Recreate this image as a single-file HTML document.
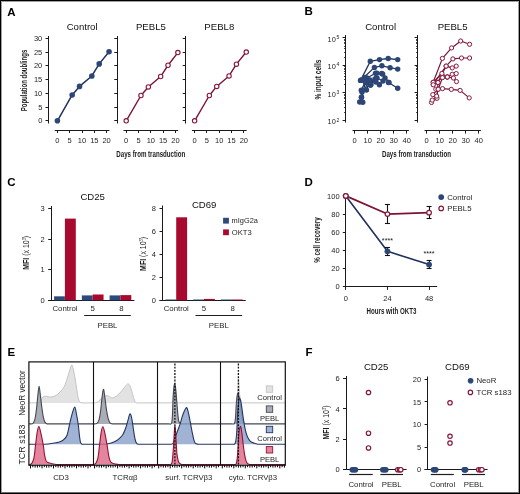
<!DOCTYPE html>
<html><head><meta charset="utf-8"><style>
html,body{margin:0;padding:0;background:#fff;}
#fig{position:relative;width:520px;height:494px;overflow:hidden;background:#fff;}
#fig svg{position:absolute;left:0;top:0;filter:blur(0.3px);}
#frame{position:absolute;left:0;top:0;width:520px;height:494px;box-sizing:border-box;border:1px solid #000;}
#frame2{position:absolute;left:1px;top:1px;width:518px;height:492px;box-sizing:border-box;border:1px solid rgba(0,0,0,0.37);border-bottom-color:rgba(0,0,0,0.57);}
text{font-family:"Liberation Sans", sans-serif;}
</style></head><body>
<div id="fig">
<svg width="520" height="494" viewBox="0 0 520 494" font-family='"Liberation Sans", sans-serif'>
<text x="7.20" y="15.60" font-size="11.5" text-anchor="start" fill="#000" font-weight="bold" >A</text>
<text x="304.60" y="15.00" font-size="11.5" text-anchor="start" fill="#000" font-weight="bold" >B</text>
<text x="7.20" y="185.60" font-size="11.5" text-anchor="start" fill="#000" font-weight="bold" >C</text>
<text x="304.50" y="185.60" font-size="11.5" text-anchor="start" fill="#000" font-weight="bold" >D</text>
<text x="7.60" y="355.60" font-size="11.5" text-anchor="start" fill="#000" font-weight="bold" >E</text>
<text x="305.40" y="355.60" font-size="11.5" text-anchor="start" fill="#000" font-weight="bold" >F</text>
<line x1="48.50" y1="36.00" x2="48.50" y2="123.50" stroke="#1a1a1a" stroke-width="1.0" />
<line x1="45.50" y1="120.50" x2="48.50" y2="120.50" stroke="#1a1a1a" stroke-width="1.0" />
<text x="42.30" y="123.40" font-size="7.5" text-anchor="end" fill="#1e1e1e" font-weight="normal" >0</text>
<line x1="45.50" y1="107.50" x2="48.50" y2="107.50" stroke="#1a1a1a" stroke-width="1.0" />
<text x="42.30" y="109.65" font-size="7.5" text-anchor="end" fill="#1e1e1e" font-weight="normal" >5</text>
<line x1="45.50" y1="93.50" x2="48.50" y2="93.50" stroke="#1a1a1a" stroke-width="1.0" />
<text x="42.30" y="95.90" font-size="7.5" text-anchor="end" fill="#1e1e1e" font-weight="normal" >10</text>
<line x1="45.50" y1="79.50" x2="48.50" y2="79.50" stroke="#1a1a1a" stroke-width="1.0" />
<text x="42.30" y="82.15" font-size="7.5" text-anchor="end" fill="#1e1e1e" font-weight="normal" >15</text>
<line x1="45.50" y1="65.50" x2="48.50" y2="65.50" stroke="#1a1a1a" stroke-width="1.0" />
<text x="42.30" y="68.40" font-size="7.5" text-anchor="end" fill="#1e1e1e" font-weight="normal" >20</text>
<line x1="45.50" y1="52.50" x2="48.50" y2="52.50" stroke="#1a1a1a" stroke-width="1.0" />
<text x="42.30" y="54.65" font-size="7.5" text-anchor="end" fill="#1e1e1e" font-weight="normal" >25</text>
<line x1="45.50" y1="38.50" x2="48.50" y2="38.50" stroke="#1a1a1a" stroke-width="1.0" />
<text x="42.30" y="40.90" font-size="7.5" text-anchor="end" fill="#1e1e1e" font-weight="normal" >30</text>
<line x1="54.70" y1="130.50" x2="109.40" y2="130.50" stroke="#1a1a1a" stroke-width="1.0" />
<line x1="57.50" y1="130.00" x2="57.50" y2="133.00" stroke="#1a1a1a" stroke-width="1.0" />
<text x="57.40" y="142.60" font-size="7.5" text-anchor="middle" fill="#1e1e1e" font-weight="normal" >0</text>
<line x1="69.50" y1="130.00" x2="69.50" y2="133.00" stroke="#1a1a1a" stroke-width="1.0" />
<text x="69.70" y="142.60" font-size="7.5" text-anchor="middle" fill="#1e1e1e" font-weight="normal" >5</text>
<line x1="82.50" y1="130.00" x2="82.50" y2="133.00" stroke="#1a1a1a" stroke-width="1.0" />
<text x="82.00" y="142.60" font-size="7.5" text-anchor="middle" fill="#1e1e1e" font-weight="normal" >10</text>
<line x1="94.50" y1="130.00" x2="94.50" y2="133.00" stroke="#1a1a1a" stroke-width="1.0" />
<text x="94.30" y="142.60" font-size="7.5" text-anchor="middle" fill="#1e1e1e" font-weight="normal" >15</text>
<line x1="106.50" y1="130.00" x2="106.50" y2="133.00" stroke="#1a1a1a" stroke-width="1.0" />
<text x="106.60" y="142.60" font-size="7.5" text-anchor="middle" fill="#1e1e1e" font-weight="normal" >20</text>
<text x="82.10" y="30.10" font-size="9.6" text-anchor="middle" fill="#111" font-weight="normal" >Control</text>
<polyline points="57.40,120.80 72.16,94.95 79.54,86.42 91.84,75.97 99.22,63.88 109.06,51.77" fill="none" stroke="#1f325c" stroke-width="1.5" stroke-linejoin="round"/>
<circle cx="57.40" cy="120.80" r="2.8" fill="#2b4677" stroke="none" stroke-width="0"/>
<circle cx="72.16" cy="94.95" r="2.8" fill="#2b4677" stroke="none" stroke-width="0"/>
<circle cx="79.54" cy="86.42" r="2.8" fill="#2b4677" stroke="none" stroke-width="0"/>
<circle cx="91.84" cy="75.97" r="2.8" fill="#2b4677" stroke="none" stroke-width="0"/>
<circle cx="99.22" cy="63.88" r="2.8" fill="#2b4677" stroke="none" stroke-width="0"/>
<circle cx="109.06" cy="51.77" r="2.8" fill="#2b4677" stroke="none" stroke-width="0"/>
<line x1="117.50" y1="36.00" x2="117.50" y2="123.50" stroke="#1a1a1a" stroke-width="1.0" />
<line x1="114.30" y1="120.50" x2="117.30" y2="120.50" stroke="#1a1a1a" stroke-width="1.0" />
<line x1="114.30" y1="107.50" x2="117.30" y2="107.50" stroke="#1a1a1a" stroke-width="1.0" />
<line x1="114.30" y1="93.50" x2="117.30" y2="93.50" stroke="#1a1a1a" stroke-width="1.0" />
<line x1="114.30" y1="79.50" x2="117.30" y2="79.50" stroke="#1a1a1a" stroke-width="1.0" />
<line x1="114.30" y1="65.50" x2="117.30" y2="65.50" stroke="#1a1a1a" stroke-width="1.0" />
<line x1="114.30" y1="52.50" x2="117.30" y2="52.50" stroke="#1a1a1a" stroke-width="1.0" />
<line x1="114.30" y1="38.50" x2="117.30" y2="38.50" stroke="#1a1a1a" stroke-width="1.0" />
<line x1="123.50" y1="130.50" x2="178.20" y2="130.50" stroke="#1a1a1a" stroke-width="1.0" />
<line x1="126.50" y1="130.00" x2="126.50" y2="133.00" stroke="#1a1a1a" stroke-width="1.0" />
<text x="126.20" y="142.60" font-size="7.5" text-anchor="middle" fill="#1e1e1e" font-weight="normal" >0</text>
<line x1="138.50" y1="130.00" x2="138.50" y2="133.00" stroke="#1a1a1a" stroke-width="1.0" />
<text x="138.50" y="142.60" font-size="7.5" text-anchor="middle" fill="#1e1e1e" font-weight="normal" >5</text>
<line x1="150.50" y1="130.00" x2="150.50" y2="133.00" stroke="#1a1a1a" stroke-width="1.0" />
<text x="150.80" y="142.60" font-size="7.5" text-anchor="middle" fill="#1e1e1e" font-weight="normal" >10</text>
<line x1="163.50" y1="130.00" x2="163.50" y2="133.00" stroke="#1a1a1a" stroke-width="1.0" />
<text x="163.10" y="142.60" font-size="7.5" text-anchor="middle" fill="#1e1e1e" font-weight="normal" >15</text>
<line x1="175.50" y1="130.00" x2="175.50" y2="133.00" stroke="#1a1a1a" stroke-width="1.0" />
<text x="175.40" y="142.60" font-size="7.5" text-anchor="middle" fill="#1e1e1e" font-weight="normal" >20</text>
<text x="150.90" y="30.10" font-size="9.6" text-anchor="middle" fill="#111" font-weight="normal" >PEBL5</text>
<polyline points="126.20,120.80 140.96,95.50 148.34,86.97 160.64,76.52 168.02,65.25 177.86,52.60" fill="none" stroke="#7c1333" stroke-width="1.4" stroke-linejoin="round"/>
<circle cx="126.20" cy="120.80" r="2.2" fill="#fff" stroke="#85173a" stroke-width="1.1"/>
<circle cx="140.96" cy="95.50" r="2.2" fill="#fff" stroke="#85173a" stroke-width="1.1"/>
<circle cx="148.34" cy="86.97" r="2.2" fill="#fff" stroke="#85173a" stroke-width="1.1"/>
<circle cx="160.64" cy="76.52" r="2.2" fill="#fff" stroke="#85173a" stroke-width="1.1"/>
<circle cx="168.02" cy="65.25" r="2.2" fill="#fff" stroke="#85173a" stroke-width="1.1"/>
<circle cx="177.86" cy="52.60" r="2.2" fill="#fff" stroke="#85173a" stroke-width="1.1"/>
<line x1="185.50" y1="36.00" x2="185.50" y2="123.50" stroke="#1a1a1a" stroke-width="1.0" />
<line x1="182.70" y1="120.50" x2="185.70" y2="120.50" stroke="#1a1a1a" stroke-width="1.0" />
<line x1="182.70" y1="107.50" x2="185.70" y2="107.50" stroke="#1a1a1a" stroke-width="1.0" />
<line x1="182.70" y1="93.50" x2="185.70" y2="93.50" stroke="#1a1a1a" stroke-width="1.0" />
<line x1="182.70" y1="79.50" x2="185.70" y2="79.50" stroke="#1a1a1a" stroke-width="1.0" />
<line x1="182.70" y1="65.50" x2="185.70" y2="65.50" stroke="#1a1a1a" stroke-width="1.0" />
<line x1="182.70" y1="52.50" x2="185.70" y2="52.50" stroke="#1a1a1a" stroke-width="1.0" />
<line x1="182.70" y1="38.50" x2="185.70" y2="38.50" stroke="#1a1a1a" stroke-width="1.0" />
<line x1="191.90" y1="130.50" x2="246.60" y2="130.50" stroke="#1a1a1a" stroke-width="1.0" />
<line x1="194.50" y1="130.00" x2="194.50" y2="133.00" stroke="#1a1a1a" stroke-width="1.0" />
<text x="194.60" y="142.60" font-size="7.5" text-anchor="middle" fill="#1e1e1e" font-weight="normal" >0</text>
<line x1="206.50" y1="130.00" x2="206.50" y2="133.00" stroke="#1a1a1a" stroke-width="1.0" />
<text x="206.90" y="142.60" font-size="7.5" text-anchor="middle" fill="#1e1e1e" font-weight="normal" >5</text>
<line x1="219.50" y1="130.00" x2="219.50" y2="133.00" stroke="#1a1a1a" stroke-width="1.0" />
<text x="219.20" y="142.60" font-size="7.5" text-anchor="middle" fill="#1e1e1e" font-weight="normal" >10</text>
<line x1="231.50" y1="130.00" x2="231.50" y2="133.00" stroke="#1a1a1a" stroke-width="1.0" />
<text x="231.50" y="142.60" font-size="7.5" text-anchor="middle" fill="#1e1e1e" font-weight="normal" >15</text>
<line x1="243.50" y1="130.00" x2="243.50" y2="133.00" stroke="#1a1a1a" stroke-width="1.0" />
<text x="243.80" y="142.60" font-size="7.5" text-anchor="middle" fill="#1e1e1e" font-weight="normal" >20</text>
<text x="219.30" y="30.10" font-size="9.6" text-anchor="middle" fill="#111" font-weight="normal" >PEBL8</text>
<polyline points="194.60,120.80 209.36,95.50 216.74,86.42 229.04,75.97 236.42,64.15 246.26,52.05" fill="none" stroke="#7c1333" stroke-width="1.4" stroke-linejoin="round"/>
<circle cx="194.60" cy="120.80" r="2.2" fill="#fff" stroke="#85173a" stroke-width="1.1"/>
<circle cx="209.36" cy="95.50" r="2.2" fill="#fff" stroke="#85173a" stroke-width="1.1"/>
<circle cx="216.74" cy="86.42" r="2.2" fill="#fff" stroke="#85173a" stroke-width="1.1"/>
<circle cx="229.04" cy="75.97" r="2.2" fill="#fff" stroke="#85173a" stroke-width="1.1"/>
<circle cx="236.42" cy="64.15" r="2.2" fill="#fff" stroke="#85173a" stroke-width="1.1"/>
<circle cx="246.26" cy="52.05" r="2.2" fill="#fff" stroke="#85173a" stroke-width="1.1"/>
<text transform="translate(26.70,80.50) rotate(-90)" x="0" y="0" font-size="8.8" text-anchor="middle" fill="#1a1a1a" font-weight="bold" textLength="61.5" lengthAdjust="spacingAndGlyphs">Population doublings</text>
<text x="150.80" y="156.60" font-size="8.8" text-anchor="middle" fill="#1a1a1a" font-weight="bold" textLength="69" lengthAdjust="spacingAndGlyphs" >Days from transduction</text>
<line x1="345.50" y1="35.00" x2="345.50" y2="122.60" stroke="#1a1a1a" stroke-width="1.0" />
<line x1="342.60" y1="120.50" x2="345.60" y2="120.50" stroke="#1a1a1a" stroke-width="1.0" />
<text x="335.80" y="124.40" font-size="7.4" text-anchor="end" fill="#1e1e1e" font-weight="normal" >10</text>
<text x="336.40" y="121.50" font-size="5.0" text-anchor="start" fill="#1e1e1e" font-weight="normal" >2</text>
<line x1="344.00" y1="112.50" x2="345.60" y2="112.50" stroke="#1a1a1a" stroke-width="0.8" />
<line x1="344.00" y1="107.50" x2="345.60" y2="107.50" stroke="#1a1a1a" stroke-width="0.8" />
<line x1="344.00" y1="103.50" x2="345.60" y2="103.50" stroke="#1a1a1a" stroke-width="0.8" />
<line x1="344.00" y1="101.50" x2="345.60" y2="101.50" stroke="#1a1a1a" stroke-width="0.8" />
<line x1="344.00" y1="98.50" x2="345.60" y2="98.50" stroke="#1a1a1a" stroke-width="0.8" />
<line x1="344.00" y1="97.50" x2="345.60" y2="97.50" stroke="#1a1a1a" stroke-width="0.8" />
<line x1="344.00" y1="95.50" x2="345.60" y2="95.50" stroke="#1a1a1a" stroke-width="0.8" />
<line x1="344.00" y1="94.50" x2="345.60" y2="94.50" stroke="#1a1a1a" stroke-width="0.8" />
<line x1="342.60" y1="92.50" x2="345.60" y2="92.50" stroke="#1a1a1a" stroke-width="1.0" />
<text x="335.80" y="96.87" font-size="7.4" text-anchor="end" fill="#1e1e1e" font-weight="normal" >10</text>
<text x="336.40" y="93.97" font-size="5.0" text-anchor="start" fill="#1e1e1e" font-weight="normal" >3</text>
<line x1="344.00" y1="84.50" x2="345.60" y2="84.50" stroke="#1a1a1a" stroke-width="0.8" />
<line x1="344.00" y1="79.50" x2="345.60" y2="79.50" stroke="#1a1a1a" stroke-width="0.8" />
<line x1="344.00" y1="76.50" x2="345.60" y2="76.50" stroke="#1a1a1a" stroke-width="0.8" />
<line x1="344.00" y1="73.50" x2="345.60" y2="73.50" stroke="#1a1a1a" stroke-width="0.8" />
<line x1="344.00" y1="71.50" x2="345.60" y2="71.50" stroke="#1a1a1a" stroke-width="0.8" />
<line x1="344.00" y1="69.50" x2="345.60" y2="69.50" stroke="#1a1a1a" stroke-width="0.8" />
<line x1="344.00" y1="68.50" x2="345.60" y2="68.50" stroke="#1a1a1a" stroke-width="0.8" />
<line x1="344.00" y1="66.50" x2="345.60" y2="66.50" stroke="#1a1a1a" stroke-width="0.8" />
<line x1="342.60" y1="65.50" x2="345.60" y2="65.50" stroke="#1a1a1a" stroke-width="1.0" />
<text x="335.80" y="69.34" font-size="7.4" text-anchor="end" fill="#1e1e1e" font-weight="normal" >10</text>
<text x="336.40" y="66.44" font-size="5.0" text-anchor="start" fill="#1e1e1e" font-weight="normal" >4</text>
<line x1="344.00" y1="57.50" x2="345.60" y2="57.50" stroke="#1a1a1a" stroke-width="0.8" />
<line x1="344.00" y1="52.50" x2="345.60" y2="52.50" stroke="#1a1a1a" stroke-width="0.8" />
<line x1="344.00" y1="48.50" x2="345.60" y2="48.50" stroke="#1a1a1a" stroke-width="0.8" />
<line x1="344.00" y1="46.50" x2="345.60" y2="46.50" stroke="#1a1a1a" stroke-width="0.8" />
<line x1="344.00" y1="43.50" x2="345.60" y2="43.50" stroke="#1a1a1a" stroke-width="0.8" />
<line x1="344.00" y1="42.50" x2="345.60" y2="42.50" stroke="#1a1a1a" stroke-width="0.8" />
<line x1="344.00" y1="40.50" x2="345.60" y2="40.50" stroke="#1a1a1a" stroke-width="0.8" />
<line x1="344.00" y1="39.50" x2="345.60" y2="39.50" stroke="#1a1a1a" stroke-width="0.8" />
<line x1="342.60" y1="37.50" x2="345.60" y2="37.50" stroke="#1a1a1a" stroke-width="1.0" />
<text x="335.80" y="41.81" font-size="7.4" text-anchor="end" fill="#1e1e1e" font-weight="normal" >10</text>
<text x="336.40" y="38.91" font-size="5.0" text-anchor="start" fill="#1e1e1e" font-weight="normal" >5</text>
<line x1="352.50" y1="130.50" x2="408.90" y2="130.50" stroke="#1a1a1a" stroke-width="1.0" />
<line x1="354.50" y1="130.60" x2="354.50" y2="133.60" stroke="#1a1a1a" stroke-width="1.0" />
<text x="354.70" y="143.00" font-size="7.5" text-anchor="middle" fill="#1e1e1e" font-weight="normal" >0</text>
<line x1="367.50" y1="130.60" x2="367.50" y2="133.60" stroke="#1a1a1a" stroke-width="1.0" />
<text x="367.70" y="143.00" font-size="7.5" text-anchor="middle" fill="#1e1e1e" font-weight="normal" >10</text>
<line x1="380.50" y1="130.60" x2="380.50" y2="133.60" stroke="#1a1a1a" stroke-width="1.0" />
<text x="380.70" y="143.00" font-size="7.5" text-anchor="middle" fill="#1e1e1e" font-weight="normal" >20</text>
<line x1="393.50" y1="130.60" x2="393.50" y2="133.60" stroke="#1a1a1a" stroke-width="1.0" />
<text x="393.70" y="143.00" font-size="7.5" text-anchor="middle" fill="#1e1e1e" font-weight="normal" >30</text>
<line x1="406.50" y1="130.60" x2="406.50" y2="133.60" stroke="#1a1a1a" stroke-width="1.0" />
<text x="406.70" y="143.00" font-size="7.5" text-anchor="middle" fill="#1e1e1e" font-weight="normal" >40</text>
<text x="380.60" y="30.10" font-size="9.6" text-anchor="middle" fill="#111" font-weight="normal" >Control</text>
<line x1="417.50" y1="35.00" x2="417.50" y2="122.60" stroke="#1a1a1a" stroke-width="1.0" />
<line x1="414.60" y1="120.50" x2="417.60" y2="120.50" stroke="#1a1a1a" stroke-width="1.0" />
<line x1="416.00" y1="112.50" x2="417.60" y2="112.50" stroke="#1a1a1a" stroke-width="0.8" />
<line x1="416.00" y1="107.50" x2="417.60" y2="107.50" stroke="#1a1a1a" stroke-width="0.8" />
<line x1="416.00" y1="103.50" x2="417.60" y2="103.50" stroke="#1a1a1a" stroke-width="0.8" />
<line x1="416.00" y1="101.50" x2="417.60" y2="101.50" stroke="#1a1a1a" stroke-width="0.8" />
<line x1="416.00" y1="98.50" x2="417.60" y2="98.50" stroke="#1a1a1a" stroke-width="0.8" />
<line x1="416.00" y1="97.50" x2="417.60" y2="97.50" stroke="#1a1a1a" stroke-width="0.8" />
<line x1="416.00" y1="95.50" x2="417.60" y2="95.50" stroke="#1a1a1a" stroke-width="0.8" />
<line x1="416.00" y1="94.50" x2="417.60" y2="94.50" stroke="#1a1a1a" stroke-width="0.8" />
<line x1="414.60" y1="92.50" x2="417.60" y2="92.50" stroke="#1a1a1a" stroke-width="1.0" />
<line x1="416.00" y1="84.50" x2="417.60" y2="84.50" stroke="#1a1a1a" stroke-width="0.8" />
<line x1="416.00" y1="79.50" x2="417.60" y2="79.50" stroke="#1a1a1a" stroke-width="0.8" />
<line x1="416.00" y1="76.50" x2="417.60" y2="76.50" stroke="#1a1a1a" stroke-width="0.8" />
<line x1="416.00" y1="73.50" x2="417.60" y2="73.50" stroke="#1a1a1a" stroke-width="0.8" />
<line x1="416.00" y1="71.50" x2="417.60" y2="71.50" stroke="#1a1a1a" stroke-width="0.8" />
<line x1="416.00" y1="69.50" x2="417.60" y2="69.50" stroke="#1a1a1a" stroke-width="0.8" />
<line x1="416.00" y1="68.50" x2="417.60" y2="68.50" stroke="#1a1a1a" stroke-width="0.8" />
<line x1="416.00" y1="66.50" x2="417.60" y2="66.50" stroke="#1a1a1a" stroke-width="0.8" />
<line x1="414.60" y1="65.50" x2="417.60" y2="65.50" stroke="#1a1a1a" stroke-width="1.0" />
<line x1="416.00" y1="57.50" x2="417.60" y2="57.50" stroke="#1a1a1a" stroke-width="0.8" />
<line x1="416.00" y1="52.50" x2="417.60" y2="52.50" stroke="#1a1a1a" stroke-width="0.8" />
<line x1="416.00" y1="48.50" x2="417.60" y2="48.50" stroke="#1a1a1a" stroke-width="0.8" />
<line x1="416.00" y1="46.50" x2="417.60" y2="46.50" stroke="#1a1a1a" stroke-width="0.8" />
<line x1="416.00" y1="43.50" x2="417.60" y2="43.50" stroke="#1a1a1a" stroke-width="0.8" />
<line x1="416.00" y1="42.50" x2="417.60" y2="42.50" stroke="#1a1a1a" stroke-width="0.8" />
<line x1="416.00" y1="40.50" x2="417.60" y2="40.50" stroke="#1a1a1a" stroke-width="0.8" />
<line x1="416.00" y1="39.50" x2="417.60" y2="39.50" stroke="#1a1a1a" stroke-width="0.8" />
<line x1="414.60" y1="37.50" x2="417.60" y2="37.50" stroke="#1a1a1a" stroke-width="1.0" />
<line x1="424.50" y1="130.50" x2="480.90" y2="130.50" stroke="#1a1a1a" stroke-width="1.0" />
<line x1="426.50" y1="130.60" x2="426.50" y2="133.60" stroke="#1a1a1a" stroke-width="1.0" />
<text x="426.70" y="143.00" font-size="7.5" text-anchor="middle" fill="#1e1e1e" font-weight="normal" >0</text>
<line x1="439.50" y1="130.60" x2="439.50" y2="133.60" stroke="#1a1a1a" stroke-width="1.0" />
<text x="439.70" y="143.00" font-size="7.5" text-anchor="middle" fill="#1e1e1e" font-weight="normal" >10</text>
<line x1="452.50" y1="130.60" x2="452.50" y2="133.60" stroke="#1a1a1a" stroke-width="1.0" />
<text x="452.70" y="143.00" font-size="7.5" text-anchor="middle" fill="#1e1e1e" font-weight="normal" >20</text>
<line x1="465.50" y1="130.60" x2="465.50" y2="133.60" stroke="#1a1a1a" stroke-width="1.0" />
<text x="465.70" y="143.00" font-size="7.5" text-anchor="middle" fill="#1e1e1e" font-weight="normal" >30</text>
<line x1="478.50" y1="130.60" x2="478.50" y2="133.60" stroke="#1a1a1a" stroke-width="1.0" />
<text x="478.70" y="143.00" font-size="7.5" text-anchor="middle" fill="#1e1e1e" font-weight="normal" >40</text>
<text x="452.60" y="30.10" font-size="9.6" text-anchor="middle" fill="#111" font-weight="normal" >PEBL5</text>
<polyline points="360.60,80.40 370.30,61.30 379.50,59.60 388.20,58.50 397.70,59.60" fill="none" stroke="#1f325c" stroke-width="1.3" stroke-linejoin="round"/>
<polyline points="361.30,80.00 374.40,67.40 381.90,65.80 390.10,67.70 397.70,69.10" fill="none" stroke="#1f325c" stroke-width="1.3" stroke-linejoin="round"/>
<polyline points="361.30,90.30 367.00,78.00 375.50,73.30 382.60,74.00 388.50,82.50 397.70,88.20" fill="none" stroke="#1f325c" stroke-width="1.3" stroke-linejoin="round"/>
<polyline points="362.80,102.20 361.50,97.20 368.00,82.00 375.00,79.00 379.40,84.80 385.00,78.00" fill="none" stroke="#1f325c" stroke-width="1.3" stroke-linejoin="round"/>
<polyline points="359.70,102.00 361.50,97.20 365.50,82.40 370.40,85.20 376.90,73.10 381.70,73.50 389.00,82.40" fill="none" stroke="#1f325c" stroke-width="1.3" stroke-linejoin="round"/>
<polyline points="360.60,80.40 365.00,77.50 371.00,84.50 377.00,78.00 383.00,81.00" fill="none" stroke="#1f325c" stroke-width="1.3" stroke-linejoin="round"/>
<polyline points="362.00,92.00 366.50,90.00 370.00,80.00 376.00,82.00" fill="none" stroke="#1f325c" stroke-width="1.3" stroke-linejoin="round"/>
<circle cx="360.60" cy="80.40" r="2.7" fill="#2b4677" stroke="none" stroke-width="0"/>
<circle cx="370.30" cy="61.30" r="2.7" fill="#2b4677" stroke="none" stroke-width="0"/>
<circle cx="379.50" cy="59.60" r="2.7" fill="#2b4677" stroke="none" stroke-width="0"/>
<circle cx="388.20" cy="58.50" r="2.7" fill="#2b4677" stroke="none" stroke-width="0"/>
<circle cx="397.70" cy="59.60" r="2.7" fill="#2b4677" stroke="none" stroke-width="0"/>
<circle cx="361.30" cy="80.00" r="2.7" fill="#2b4677" stroke="none" stroke-width="0"/>
<circle cx="374.40" cy="67.40" r="2.7" fill="#2b4677" stroke="none" stroke-width="0"/>
<circle cx="381.90" cy="65.80" r="2.7" fill="#2b4677" stroke="none" stroke-width="0"/>
<circle cx="390.10" cy="67.70" r="2.7" fill="#2b4677" stroke="none" stroke-width="0"/>
<circle cx="397.70" cy="69.10" r="2.7" fill="#2b4677" stroke="none" stroke-width="0"/>
<circle cx="361.30" cy="90.30" r="2.7" fill="#2b4677" stroke="none" stroke-width="0"/>
<circle cx="367.00" cy="78.00" r="2.7" fill="#2b4677" stroke="none" stroke-width="0"/>
<circle cx="375.50" cy="73.30" r="2.7" fill="#2b4677" stroke="none" stroke-width="0"/>
<circle cx="382.60" cy="74.00" r="2.7" fill="#2b4677" stroke="none" stroke-width="0"/>
<circle cx="388.50" cy="82.50" r="2.7" fill="#2b4677" stroke="none" stroke-width="0"/>
<circle cx="397.70" cy="88.20" r="2.7" fill="#2b4677" stroke="none" stroke-width="0"/>
<circle cx="362.80" cy="102.20" r="2.7" fill="#2b4677" stroke="none" stroke-width="0"/>
<circle cx="361.50" cy="97.20" r="2.7" fill="#2b4677" stroke="none" stroke-width="0"/>
<circle cx="368.00" cy="82.00" r="2.7" fill="#2b4677" stroke="none" stroke-width="0"/>
<circle cx="375.00" cy="79.00" r="2.7" fill="#2b4677" stroke="none" stroke-width="0"/>
<circle cx="379.40" cy="84.80" r="2.7" fill="#2b4677" stroke="none" stroke-width="0"/>
<circle cx="385.00" cy="78.00" r="2.7" fill="#2b4677" stroke="none" stroke-width="0"/>
<circle cx="359.70" cy="102.00" r="2.7" fill="#2b4677" stroke="none" stroke-width="0"/>
<circle cx="361.50" cy="97.20" r="2.7" fill="#2b4677" stroke="none" stroke-width="0"/>
<circle cx="365.50" cy="82.40" r="2.7" fill="#2b4677" stroke="none" stroke-width="0"/>
<circle cx="370.40" cy="85.20" r="2.7" fill="#2b4677" stroke="none" stroke-width="0"/>
<circle cx="376.90" cy="73.10" r="2.7" fill="#2b4677" stroke="none" stroke-width="0"/>
<circle cx="381.70" cy="73.50" r="2.7" fill="#2b4677" stroke="none" stroke-width="0"/>
<circle cx="389.00" cy="82.40" r="2.7" fill="#2b4677" stroke="none" stroke-width="0"/>
<circle cx="360.60" cy="80.40" r="2.7" fill="#2b4677" stroke="none" stroke-width="0"/>
<circle cx="365.00" cy="77.50" r="2.7" fill="#2b4677" stroke="none" stroke-width="0"/>
<circle cx="371.00" cy="84.50" r="2.7" fill="#2b4677" stroke="none" stroke-width="0"/>
<circle cx="377.00" cy="78.00" r="2.7" fill="#2b4677" stroke="none" stroke-width="0"/>
<circle cx="383.00" cy="81.00" r="2.7" fill="#2b4677" stroke="none" stroke-width="0"/>
<circle cx="362.00" cy="92.00" r="2.7" fill="#2b4677" stroke="none" stroke-width="0"/>
<circle cx="366.50" cy="90.00" r="2.7" fill="#2b4677" stroke="none" stroke-width="0"/>
<circle cx="370.00" cy="80.00" r="2.7" fill="#2b4677" stroke="none" stroke-width="0"/>
<circle cx="376.00" cy="82.00" r="2.7" fill="#2b4677" stroke="none" stroke-width="0"/>
<polyline points="433.20,82.30 442.40,58.40 451.60,47.90 460.70,41.00 469.60,44.30" fill="none" stroke="#7c1333" stroke-width="1.2" stroke-linejoin="round"/>
<polyline points="433.20,84.30 446.10,66.10 452.90,58.90 461.50,58.00 469.60,58.00" fill="none" stroke="#7c1333" stroke-width="1.2" stroke-linejoin="round"/>
<polyline points="433.20,82.30 441.90,73.40 447.30,77.00 452.20,74.30 456.20,73.60" fill="none" stroke="#7c1333" stroke-width="1.2" stroke-linejoin="round"/>
<polyline points="438.00,82.50 446.10,66.10 452.20,67.90 456.20,66.10" fill="none" stroke="#7c1333" stroke-width="1.2" stroke-linejoin="round"/>
<polyline points="433.20,84.80 441.90,77.60 447.30,77.00 453.40,78.00 456.50,81.60" fill="none" stroke="#7c1333" stroke-width="1.2" stroke-linejoin="round"/>
<polyline points="435.80,89.20 442.50,88.60 451.30,89.40 460.10,90.40 469.20,97.90" fill="none" stroke="#7c1333" stroke-width="1.2" stroke-linejoin="round"/>
<polyline points="432.80,94.60 438.20,89.20 442.50,77.60 447.30,77.00" fill="none" stroke="#7c1333" stroke-width="1.2" stroke-linejoin="round"/>
<polyline points="431.50,102.50 437.00,98.30 438.00,82.50" fill="none" stroke="#7c1333" stroke-width="1.2" stroke-linejoin="round"/>
<polyline points="432.20,100.10 436.70,96.10 438.20,89.20" fill="none" stroke="#7c1333" stroke-width="1.2" stroke-linejoin="round"/>
<circle cx="433.20" cy="82.30" r="2.1" fill="#fff" stroke="#85173a" stroke-width="1.0"/>
<circle cx="442.40" cy="58.40" r="2.1" fill="#fff" stroke="#85173a" stroke-width="1.0"/>
<circle cx="451.60" cy="47.90" r="2.1" fill="#fff" stroke="#85173a" stroke-width="1.0"/>
<circle cx="460.70" cy="41.00" r="2.1" fill="#fff" stroke="#85173a" stroke-width="1.0"/>
<circle cx="469.60" cy="44.30" r="2.1" fill="#fff" stroke="#85173a" stroke-width="1.0"/>
<circle cx="433.20" cy="84.30" r="2.1" fill="#fff" stroke="#85173a" stroke-width="1.0"/>
<circle cx="446.10" cy="66.10" r="2.1" fill="#fff" stroke="#85173a" stroke-width="1.0"/>
<circle cx="452.90" cy="58.90" r="2.1" fill="#fff" stroke="#85173a" stroke-width="1.0"/>
<circle cx="461.50" cy="58.00" r="2.1" fill="#fff" stroke="#85173a" stroke-width="1.0"/>
<circle cx="469.60" cy="58.00" r="2.1" fill="#fff" stroke="#85173a" stroke-width="1.0"/>
<circle cx="433.20" cy="82.30" r="2.1" fill="#fff" stroke="#85173a" stroke-width="1.0"/>
<circle cx="441.90" cy="73.40" r="2.1" fill="#fff" stroke="#85173a" stroke-width="1.0"/>
<circle cx="447.30" cy="77.00" r="2.1" fill="#fff" stroke="#85173a" stroke-width="1.0"/>
<circle cx="452.20" cy="74.30" r="2.1" fill="#fff" stroke="#85173a" stroke-width="1.0"/>
<circle cx="456.20" cy="73.60" r="2.1" fill="#fff" stroke="#85173a" stroke-width="1.0"/>
<circle cx="438.00" cy="82.50" r="2.1" fill="#fff" stroke="#85173a" stroke-width="1.0"/>
<circle cx="446.10" cy="66.10" r="2.1" fill="#fff" stroke="#85173a" stroke-width="1.0"/>
<circle cx="452.20" cy="67.90" r="2.1" fill="#fff" stroke="#85173a" stroke-width="1.0"/>
<circle cx="456.20" cy="66.10" r="2.1" fill="#fff" stroke="#85173a" stroke-width="1.0"/>
<circle cx="433.20" cy="84.80" r="2.1" fill="#fff" stroke="#85173a" stroke-width="1.0"/>
<circle cx="441.90" cy="77.60" r="2.1" fill="#fff" stroke="#85173a" stroke-width="1.0"/>
<circle cx="447.30" cy="77.00" r="2.1" fill="#fff" stroke="#85173a" stroke-width="1.0"/>
<circle cx="453.40" cy="78.00" r="2.1" fill="#fff" stroke="#85173a" stroke-width="1.0"/>
<circle cx="456.50" cy="81.60" r="2.1" fill="#fff" stroke="#85173a" stroke-width="1.0"/>
<circle cx="435.80" cy="89.20" r="2.1" fill="#fff" stroke="#85173a" stroke-width="1.0"/>
<circle cx="442.50" cy="88.60" r="2.1" fill="#fff" stroke="#85173a" stroke-width="1.0"/>
<circle cx="451.30" cy="89.40" r="2.1" fill="#fff" stroke="#85173a" stroke-width="1.0"/>
<circle cx="460.10" cy="90.40" r="2.1" fill="#fff" stroke="#85173a" stroke-width="1.0"/>
<circle cx="469.20" cy="97.90" r="2.1" fill="#fff" stroke="#85173a" stroke-width="1.0"/>
<circle cx="432.80" cy="94.60" r="2.1" fill="#fff" stroke="#85173a" stroke-width="1.0"/>
<circle cx="438.20" cy="89.20" r="2.1" fill="#fff" stroke="#85173a" stroke-width="1.0"/>
<circle cx="442.50" cy="77.60" r="2.1" fill="#fff" stroke="#85173a" stroke-width="1.0"/>
<circle cx="447.30" cy="77.00" r="2.1" fill="#fff" stroke="#85173a" stroke-width="1.0"/>
<circle cx="431.50" cy="102.50" r="2.1" fill="#fff" stroke="#85173a" stroke-width="1.0"/>
<circle cx="437.00" cy="98.30" r="2.1" fill="#fff" stroke="#85173a" stroke-width="1.0"/>
<circle cx="438.00" cy="82.50" r="2.1" fill="#fff" stroke="#85173a" stroke-width="1.0"/>
<circle cx="432.20" cy="100.10" r="2.1" fill="#fff" stroke="#85173a" stroke-width="1.0"/>
<circle cx="436.70" cy="96.10" r="2.1" fill="#fff" stroke="#85173a" stroke-width="1.0"/>
<circle cx="438.20" cy="89.20" r="2.1" fill="#fff" stroke="#85173a" stroke-width="1.0"/>
<text transform="translate(321.00,79.60) rotate(-90)" x="0" y="0" font-size="8.2" text-anchor="middle" fill="#1a1a1a" font-weight="bold" textLength="40" lengthAdjust="spacingAndGlyphs">% input cells</text>
<text x="416.50" y="156.60" font-size="8.8" text-anchor="middle" fill="#1a1a1a" font-weight="bold" textLength="69" lengthAdjust="spacingAndGlyphs" >Days from transduction</text>
<line x1="51.50" y1="206.00" x2="51.50" y2="300.30" stroke="#1a1a1a" stroke-width="1.0" />
<line x1="48.20" y1="300.50" x2="134.40" y2="300.50" stroke="#1a1a1a" stroke-width="1.0" />
<line x1="48.20" y1="300.50" x2="51.20" y2="300.50" stroke="#1a1a1a" stroke-width="1.0" />
<text x="44.60" y="302.90" font-size="7.5" text-anchor="end" fill="#1e1e1e" font-weight="normal" >0</text>
<line x1="48.20" y1="269.50" x2="51.20" y2="269.50" stroke="#1a1a1a" stroke-width="1.0" />
<text x="44.60" y="272.30" font-size="7.5" text-anchor="end" fill="#1e1e1e" font-weight="normal" >1</text>
<line x1="48.20" y1="239.50" x2="51.20" y2="239.50" stroke="#1a1a1a" stroke-width="1.0" />
<text x="44.60" y="241.70" font-size="7.5" text-anchor="end" fill="#1e1e1e" font-weight="normal" >2</text>
<line x1="48.20" y1="208.50" x2="51.20" y2="208.50" stroke="#1a1a1a" stroke-width="1.0" />
<text x="44.60" y="211.10" font-size="7.5" text-anchor="end" fill="#1e1e1e" font-weight="normal" >3</text>
<text x="92.70" y="199.90" font-size="9.6" text-anchor="middle" fill="#111" font-weight="normal" >CD25</text>
<rect x="54.10" y="296.32" width="10.80" height="3.98" fill="#2c4a7c" stroke="none" stroke-width="0"/>
<rect x="64.90" y="218.60" width="10.90" height="81.70" fill="#a8092f" stroke="none" stroke-width="0"/>
<rect x="81.85" y="295.40" width="10.80" height="4.90" fill="#2c4a7c" stroke="none" stroke-width="0"/>
<rect x="92.65" y="294.49" width="10.90" height="5.81" fill="#a8092f" stroke="none" stroke-width="0"/>
<rect x="109.60" y="295.40" width="10.80" height="4.90" fill="#2c4a7c" stroke="none" stroke-width="0"/>
<rect x="120.40" y="295.10" width="10.90" height="5.20" fill="#a8092f" stroke="none" stroke-width="0"/>
<text x="65.00" y="310.80" font-size="7.8" text-anchor="middle" fill="#1e1e1e" font-weight="normal" >Control</text>
<text x="92.60" y="310.80" font-size="7.8" text-anchor="middle" fill="#1e1e1e" font-weight="normal" >5</text>
<text x="121.30" y="310.80" font-size="7.8" text-anchor="middle" fill="#1e1e1e" font-weight="normal" >8</text>
<line x1="84.20" y1="315.50" x2="130.80" y2="315.50" stroke="#1e1e1e" stroke-width="1.2" />
<text x="107.50" y="327.60" font-size="7.8" text-anchor="middle" fill="#1e1e1e" font-weight="normal" >PEBL</text>
<line x1="162.50" y1="205.50" x2="162.50" y2="300.30" stroke="#1a1a1a" stroke-width="1.0" />
<line x1="159.50" y1="300.50" x2="245.70" y2="300.50" stroke="#1a1a1a" stroke-width="1.0" />
<line x1="159.50" y1="300.50" x2="162.50" y2="300.50" stroke="#1a1a1a" stroke-width="1.0" />
<text x="155.90" y="302.90" font-size="7.5" text-anchor="end" fill="#1e1e1e" font-weight="normal" >0</text>
<line x1="159.50" y1="277.50" x2="162.50" y2="277.50" stroke="#1a1a1a" stroke-width="1.0" />
<text x="155.90" y="279.94" font-size="7.5" text-anchor="end" fill="#1e1e1e" font-weight="normal" >2</text>
<line x1="159.50" y1="254.50" x2="162.50" y2="254.50" stroke="#1a1a1a" stroke-width="1.0" />
<text x="155.90" y="256.98" font-size="7.5" text-anchor="end" fill="#1e1e1e" font-weight="normal" >4</text>
<line x1="159.50" y1="231.50" x2="162.50" y2="231.50" stroke="#1a1a1a" stroke-width="1.0" />
<text x="155.90" y="234.02" font-size="7.5" text-anchor="end" fill="#1e1e1e" font-weight="normal" >6</text>
<line x1="159.50" y1="208.50" x2="162.50" y2="208.50" stroke="#1a1a1a" stroke-width="1.0" />
<text x="155.90" y="211.06" font-size="7.5" text-anchor="end" fill="#1e1e1e" font-weight="normal" >8</text>
<text x="204.20" y="207.90" font-size="9.6" text-anchor="middle" fill="#111" font-weight="normal" >CD69</text>
<rect x="165.40" y="299.50" width="10.80" height="0.80" fill="#2c4a7c" stroke="none" stroke-width="0"/>
<rect x="176.20" y="217.30" width="10.90" height="83.00" fill="#a8092f" stroke="none" stroke-width="0"/>
<rect x="193.15" y="299.50" width="10.80" height="0.80" fill="#2c4a7c" stroke="none" stroke-width="0"/>
<rect x="203.95" y="298.92" width="10.90" height="1.38" fill="#a8092f" stroke="none" stroke-width="0"/>
<rect x="220.90" y="299.50" width="10.80" height="0.80" fill="#2c4a7c" stroke="none" stroke-width="0"/>
<rect x="231.70" y="299.50" width="10.90" height="0.80" fill="#a8092f" stroke="none" stroke-width="0"/>
<text x="176.30" y="310.80" font-size="7.8" text-anchor="middle" fill="#1e1e1e" font-weight="normal" >Control</text>
<text x="203.90" y="310.80" font-size="7.8" text-anchor="middle" fill="#1e1e1e" font-weight="normal" >5</text>
<text x="232.60" y="310.80" font-size="7.8" text-anchor="middle" fill="#1e1e1e" font-weight="normal" >8</text>
<line x1="195.50" y1="315.50" x2="242.10" y2="315.50" stroke="#1e1e1e" stroke-width="1.2" />
<text x="218.80" y="327.60" font-size="7.8" text-anchor="middle" fill="#1e1e1e" font-weight="normal" >PEBL</text>
<text transform="translate(29.20,252.80) rotate(-90)" x="0" y="0" font-size="8.8" text-anchor="middle" fill="#1a1a1a" font-weight="normal" textLength="34" lengthAdjust="spacingAndGlyphs"><tspan font-weight="bold">MFI</tspan> (x 10<tspan font-size="5" dy="-2.8">3</tspan><tspan dy="2.8">)</tspan></text>
<text transform="translate(145.80,253.90) rotate(-90)" x="0" y="0" font-size="8.8" text-anchor="middle" fill="#1a1a1a" font-weight="normal" textLength="34" lengthAdjust="spacingAndGlyphs"><tspan font-weight="bold">MFI</tspan> (x 10<tspan font-size="5" dy="-2.8">3</tspan><tspan dy="2.8">)</tspan></text>
<rect x="223.10" y="217.80" width="5.80" height="5.80" fill="#2c4a7c" stroke="none" stroke-width="0"/>
<text x="231.60" y="222.70" font-size="7.4" text-anchor="start" fill="#1e1e1e" font-weight="normal" >mIgG2a</text>
<rect x="223.10" y="229.40" width="5.80" height="5.80" fill="#a8092f" stroke="none" stroke-width="0"/>
<text x="231.80" y="234.60" font-size="7.6" text-anchor="start" fill="#1e1e1e" font-weight="normal" >OKT3</text>
<line x1="345.50" y1="195.50" x2="345.50" y2="286.80" stroke="#1a1a1a" stroke-width="1.0" />
<line x1="345.80" y1="286.50" x2="437.20" y2="286.50" stroke="#1a1a1a" stroke-width="1.0" />
<line x1="342.80" y1="286.50" x2="345.80" y2="286.50" stroke="#1a1a1a" stroke-width="1.0" />
<text x="339.60" y="289.40" font-size="7.5" text-anchor="end" fill="#1e1e1e" font-weight="normal" >0</text>
<line x1="342.80" y1="268.50" x2="345.80" y2="268.50" stroke="#1a1a1a" stroke-width="1.0" />
<text x="339.60" y="271.22" font-size="7.5" text-anchor="end" fill="#1e1e1e" font-weight="normal" >20</text>
<line x1="342.80" y1="250.50" x2="345.80" y2="250.50" stroke="#1a1a1a" stroke-width="1.0" />
<text x="339.60" y="253.04" font-size="7.5" text-anchor="end" fill="#1e1e1e" font-weight="normal" >40</text>
<line x1="342.80" y1="232.50" x2="345.80" y2="232.50" stroke="#1a1a1a" stroke-width="1.0" />
<text x="339.60" y="234.86" font-size="7.5" text-anchor="end" fill="#1e1e1e" font-weight="normal" >60</text>
<line x1="342.80" y1="214.50" x2="345.80" y2="214.50" stroke="#1a1a1a" stroke-width="1.0" />
<text x="339.60" y="216.68" font-size="7.5" text-anchor="end" fill="#1e1e1e" font-weight="normal" >80</text>
<line x1="342.80" y1="195.50" x2="345.80" y2="195.50" stroke="#1a1a1a" stroke-width="1.0" />
<text x="339.60" y="198.50" font-size="7.5" text-anchor="end" fill="#1e1e1e" font-weight="normal" >100</text>
<line x1="345.50" y1="286.80" x2="345.50" y2="289.80" stroke="#1a1a1a" stroke-width="1.0" />
<text x="345.80" y="300.80" font-size="7.5" text-anchor="middle" fill="#1e1e1e" font-weight="normal" >0</text>
<line x1="387.50" y1="286.80" x2="387.50" y2="289.80" stroke="#1a1a1a" stroke-width="1.0" />
<text x="387.44" y="300.80" font-size="7.5" text-anchor="middle" fill="#1e1e1e" font-weight="normal" >24</text>
<line x1="429.50" y1="286.80" x2="429.50" y2="289.80" stroke="#1a1a1a" stroke-width="1.0" />
<text x="429.08" y="300.80" font-size="7.5" text-anchor="middle" fill="#1e1e1e" font-weight="normal" >48</text>
<polyline points="345.80,195.90 387.44,214.08 429.08,212.63" fill="none" stroke="#7c1333" stroke-width="1.7" stroke-linejoin="round"/>
<polyline points="345.80,195.90 387.44,251.35 429.08,264.53" fill="none" stroke="#1f325c" stroke-width="1.6" stroke-linejoin="round"/>
<line x1="387.50" y1="204.99" x2="387.50" y2="223.17" stroke="#111" stroke-width="1.1" />
<line x1="384.94" y1="204.50" x2="389.94" y2="204.50" stroke="#111" stroke-width="1.1" />
<line x1="384.94" y1="223.50" x2="389.94" y2="223.50" stroke="#111" stroke-width="1.1" />
<line x1="429.50" y1="206.81" x2="429.50" y2="218.44" stroke="#111" stroke-width="1.1" />
<line x1="426.58" y1="206.50" x2="431.58" y2="206.50" stroke="#111" stroke-width="1.1" />
<line x1="426.58" y1="218.50" x2="431.58" y2="218.50" stroke="#111" stroke-width="1.1" />
<line x1="387.50" y1="247.35" x2="387.50" y2="255.35" stroke="#111" stroke-width="1.1" />
<line x1="384.94" y1="247.50" x2="389.94" y2="247.50" stroke="#111" stroke-width="1.1" />
<line x1="384.94" y1="255.50" x2="389.94" y2="255.50" stroke="#111" stroke-width="1.1" />
<line x1="429.50" y1="260.89" x2="429.50" y2="268.17" stroke="#111" stroke-width="1.1" />
<line x1="426.58" y1="260.50" x2="431.58" y2="260.50" stroke="#111" stroke-width="1.1" />
<line x1="426.58" y1="268.50" x2="431.58" y2="268.50" stroke="#111" stroke-width="1.1" />
<circle cx="345.80" cy="195.90" r="2.9" fill="#2b4677" stroke="none" stroke-width="0"/>
<circle cx="387.44" cy="251.35" r="2.9" fill="#2b4677" stroke="none" stroke-width="0"/>
<circle cx="429.08" cy="264.53" r="2.9" fill="#2b4677" stroke="none" stroke-width="0"/>
<circle cx="345.80" cy="195.90" r="2.3" fill="#fff" stroke="#85173a" stroke-width="1.2"/>
<circle cx="387.44" cy="214.08" r="2.3" fill="#fff" stroke="#85173a" stroke-width="1.2"/>
<circle cx="429.08" cy="212.63" r="2.3" fill="#fff" stroke="#85173a" stroke-width="1.2"/>
<text x="387.44" y="243.00" font-size="7.2" text-anchor="middle" fill="#111" font-weight="normal" >****</text>
<text x="429.08" y="256.20" font-size="7.2" text-anchor="middle" fill="#111" font-weight="normal" >****</text>
<circle cx="441.20" cy="197.10" r="2.9" fill="#2b4677" stroke="none" stroke-width="0"/>
<text x="447.20" y="200.20" font-size="7.8" text-anchor="start" fill="#1e1e1e" font-weight="normal" >Control</text>
<circle cx="441.20" cy="208.40" r="2.3" fill="#fff" stroke="#85173a" stroke-width="1.2"/>
<text x="447.20" y="211.30" font-size="7.8" text-anchor="start" fill="#1e1e1e" font-weight="normal" >PEBL5</text>
<text transform="translate(320.20,240.00) rotate(-90)" x="0" y="0" font-size="8.2" text-anchor="middle" fill="#1a1a1a" font-weight="bold" textLength="45.5" lengthAdjust="spacingAndGlyphs">% cell recovery</text>
<text x="391.50" y="314.20" font-size="9.0" text-anchor="middle" fill="#1a1a1a" font-weight="bold" textLength="50" lengthAdjust="spacingAndGlyphs" >Hours with OKT3</text>
<path d="M30.00,402.90 C31.50,402.85 37.17,403.10 39.00,402.60 C40.83,402.10 40.33,400.85 41.00,399.90 C41.67,398.95 42.17,397.50 43.00,396.90 C43.83,396.30 44.83,396.27 46.00,396.30 C47.17,396.33 48.67,397.08 50.00,397.10 C51.33,397.12 52.67,396.93 54.00,396.40 C55.33,395.87 56.67,394.98 58.00,393.90 C59.33,392.82 60.83,391.40 62.00,389.90 C63.17,388.40 64.00,387.23 65.00,384.90 C66.00,382.57 67.08,378.73 68.00,375.90 C68.92,373.07 69.87,369.73 70.50,367.90 C71.13,366.07 71.38,364.90 71.80,364.90 C72.22,364.90 72.47,365.73 73.00,367.90 C73.53,370.07 74.33,374.07 75.00,377.90 C75.67,381.73 76.42,387.40 77.00,390.90 C77.58,394.40 78.00,397.00 78.50,398.90 C79.00,400.80 79.42,401.63 80.00,402.30 C80.58,402.97 81.67,402.80 82.00,402.90 Z" fill="#dddddd" fill-opacity="0.85" stroke="none"/>
<path d="M94.00,402.90 C94.50,402.82 96.00,402.90 97.00,402.40 C98.00,401.90 99.00,400.82 100.00,399.90 C101.00,398.98 101.90,397.63 103.00,396.90 C104.10,396.17 105.60,395.58 106.60,395.50 C107.60,395.42 108.05,396.00 109.00,396.40 C109.95,396.80 111.13,397.90 112.30,397.90 C113.47,397.90 114.72,397.23 116.00,396.40 C117.28,395.57 118.67,394.32 120.00,392.90 C121.33,391.48 122.92,389.23 124.00,387.90 C125.08,386.57 125.80,385.58 126.50,384.90 C127.20,384.22 127.62,383.63 128.20,383.80 C128.78,383.97 129.37,384.55 130.00,385.90 C130.63,387.25 131.33,389.73 132.00,391.90 C132.67,394.07 133.37,397.15 134.00,398.90 C134.63,400.65 135.30,401.73 135.80,402.40 C136.30,403.07 136.80,402.82 137.00,402.90 Z" fill="#dddddd" fill-opacity="0.85" stroke="none"/>
<path d="M170.00,402.90 C170.42,402.73 171.87,403.23 172.50,401.90 C173.13,400.57 173.42,398.07 173.80,394.90 C174.18,391.73 174.47,382.90 174.80,382.90 C175.13,382.90 175.43,391.73 175.80,394.90 C176.17,398.07 176.47,400.57 177.00,401.90 C177.53,403.23 178.67,402.73 179.00,402.90 Z" fill="#dddddd" fill-opacity="0.85" stroke="none"/>
<path d="M234.00,402.90 C234.42,402.65 235.88,403.07 236.50,401.40 C237.12,399.73 237.37,396.65 237.70,392.90 C238.03,389.15 238.20,378.90 238.50,378.90 C238.80,378.90 239.08,389.15 239.50,392.90 C239.92,396.65 240.42,399.73 241.00,401.40 C241.58,403.07 242.67,402.65 243.00,402.90 Z" fill="#dddddd" fill-opacity="0.85" stroke="none"/>
<path d="M28.90,402.90 L30.00,402.90 C31.50,402.85 37.17,403.10 39.00,402.60 C40.83,402.10 40.33,400.85 41.00,399.90 C41.67,398.95 42.17,397.50 43.00,396.90 C43.83,396.30 44.83,396.27 46.00,396.30 C47.17,396.33 48.67,397.08 50.00,397.10 C51.33,397.12 52.67,396.93 54.00,396.40 C55.33,395.87 56.67,394.98 58.00,393.90 C59.33,392.82 60.83,391.40 62.00,389.90 C63.17,388.40 64.00,387.23 65.00,384.90 C66.00,382.57 67.08,378.73 68.00,375.90 C68.92,373.07 69.87,369.73 70.50,367.90 C71.13,366.07 71.38,364.90 71.80,364.90 C72.22,364.90 72.47,365.73 73.00,367.90 C73.53,370.07 74.33,374.07 75.00,377.90 C75.67,381.73 76.42,387.40 77.00,390.90 C77.58,394.40 78.00,397.00 78.50,398.90 C79.00,400.80 79.42,401.63 80.00,402.30 C80.58,402.97 81.67,402.80 82.00,402.90 L93.00,402.90" fill="none" stroke="#c4c4c4" stroke-width="1.0" stroke-linejoin="round"/>
<path d="M93.00,402.90 L94.00,402.90 C94.50,402.82 96.00,402.90 97.00,402.40 C98.00,401.90 99.00,400.82 100.00,399.90 C101.00,398.98 101.90,397.63 103.00,396.90 C104.10,396.17 105.60,395.58 106.60,395.50 C107.60,395.42 108.05,396.00 109.00,396.40 C109.95,396.80 111.13,397.90 112.30,397.90 C113.47,397.90 114.72,397.23 116.00,396.40 C117.28,395.57 118.67,394.32 120.00,392.90 C121.33,391.48 122.92,389.23 124.00,387.90 C125.08,386.57 125.80,385.58 126.50,384.90 C127.20,384.22 127.62,383.63 128.20,383.80 C128.78,383.97 129.37,384.55 130.00,385.90 C130.63,387.25 131.33,389.73 132.00,391.90 C132.67,394.07 133.37,397.15 134.00,398.90 C134.63,400.65 135.30,401.73 135.80,402.40 C136.30,403.07 136.80,402.82 137.00,402.90 L157.10,402.90" fill="none" stroke="#c4c4c4" stroke-width="1.0" stroke-linejoin="round"/>
<path d="M157.10,402.90 L170.00,402.90 C170.42,402.73 171.87,403.23 172.50,401.90 C173.13,400.57 173.42,398.07 173.80,394.90 C174.18,391.73 174.47,382.90 174.80,382.90 C175.13,382.90 175.43,391.73 175.80,394.90 C176.17,398.07 176.47,400.57 177.00,401.90 C177.53,403.23 178.67,402.73 179.00,402.90 L220.70,402.90" fill="none" stroke="#c4c4c4" stroke-width="1.0" stroke-linejoin="round"/>
<path d="M220.70,402.90 L234.00,402.90 C234.42,402.65 235.88,403.07 236.50,401.40 C237.12,399.73 237.37,396.65 237.70,392.90 C238.03,389.15 238.20,378.90 238.50,378.90 C238.80,378.90 239.08,389.15 239.50,392.90 C239.92,396.65 240.42,399.73 241.00,401.40 C241.58,403.07 242.67,402.65 243.00,402.90 L285.30,402.90" fill="none" stroke="#c4c4c4" stroke-width="1.0" stroke-linejoin="round"/>
<path d="M30.00,423.90 C30.50,423.82 32.17,424.23 33.00,423.40 C33.83,422.57 34.42,421.32 35.00,418.90 C35.58,416.48 36.00,413.07 36.50,408.90 C37.00,404.73 37.57,397.67 38.00,393.90 C38.43,390.13 38.73,386.30 39.10,386.30 C39.47,386.30 39.72,390.13 40.20,393.90 C40.68,397.67 41.45,404.90 42.00,408.90 C42.55,412.90 43.00,415.65 43.50,417.90 C44.00,420.15 44.42,421.40 45.00,422.40 C45.58,423.40 46.67,423.65 47.00,423.90 Z" fill="#8d909e" fill-opacity="0.75" stroke="none"/>
<path d="M94.00,423.90 C94.50,423.82 96.17,424.07 97.00,423.40 C97.83,422.73 98.42,421.82 99.00,419.90 C99.58,417.98 100.00,415.57 100.50,411.90 C101.00,408.23 101.52,401.68 102.00,397.90 C102.48,394.12 102.93,389.37 103.40,389.20 C103.87,389.03 104.28,393.45 104.80,396.90 C105.32,400.35 105.97,406.40 106.50,409.90 C107.03,413.40 107.50,415.90 108.00,417.90 C108.50,419.90 109.00,420.95 109.50,421.90 C110.00,422.85 110.42,423.27 111.00,423.60 C111.58,423.93 112.67,423.85 113.00,423.90 Z" fill="#8d909e" fill-opacity="0.75" stroke="none"/>
<path d="M169.00,423.90 C169.42,423.82 170.93,424.73 171.50,423.40 C172.07,422.07 172.12,420.48 172.40,415.90 C172.68,411.32 172.87,401.15 173.20,395.90 C173.53,390.65 174.00,385.73 174.40,384.40 C174.80,383.07 175.20,384.98 175.60,387.90 C176.00,390.82 176.40,397.23 176.80,401.90 C177.20,406.57 177.63,412.57 178.00,415.90 C178.37,419.23 178.50,420.57 179.00,421.90 C179.50,423.23 180.67,423.57 181.00,423.90 Z" fill="#8d909e" fill-opacity="0.75" stroke="none"/>
<path d="M232.00,423.90 C232.42,423.82 233.92,424.40 234.50,423.40 C235.08,422.40 235.20,421.15 235.50,417.90 C235.80,414.65 235.97,407.90 236.30,403.90 C236.63,399.90 237.05,395.07 237.50,393.90 C237.95,392.73 238.50,394.90 239.00,396.90 C239.50,398.90 240.03,402.73 240.50,405.90 C240.97,409.07 241.38,413.23 241.80,415.90 C242.22,418.57 242.47,420.57 243.00,421.90 C243.53,423.23 244.67,423.57 245.00,423.90 Z" fill="#8d909e" fill-opacity="0.75" stroke="none"/>
<path d="M28.90,423.90 L30.00,423.90 C30.50,423.82 32.17,424.23 33.00,423.40 C33.83,422.57 34.42,421.32 35.00,418.90 C35.58,416.48 36.00,413.07 36.50,408.90 C37.00,404.73 37.57,397.67 38.00,393.90 C38.43,390.13 38.73,386.30 39.10,386.30 C39.47,386.30 39.72,390.13 40.20,393.90 C40.68,397.67 41.45,404.90 42.00,408.90 C42.55,412.90 43.00,415.65 43.50,417.90 C44.00,420.15 44.42,421.40 45.00,422.40 C45.58,423.40 46.67,423.65 47.00,423.90 L93.00,423.90" fill="none" stroke="#454955" stroke-width="1.1" stroke-linejoin="round"/>
<path d="M93.00,423.90 L94.00,423.90 C94.50,423.82 96.17,424.07 97.00,423.40 C97.83,422.73 98.42,421.82 99.00,419.90 C99.58,417.98 100.00,415.57 100.50,411.90 C101.00,408.23 101.52,401.68 102.00,397.90 C102.48,394.12 102.93,389.37 103.40,389.20 C103.87,389.03 104.28,393.45 104.80,396.90 C105.32,400.35 105.97,406.40 106.50,409.90 C107.03,413.40 107.50,415.90 108.00,417.90 C108.50,419.90 109.00,420.95 109.50,421.90 C110.00,422.85 110.42,423.27 111.00,423.60 C111.58,423.93 112.67,423.85 113.00,423.90 L157.10,423.90" fill="none" stroke="#454955" stroke-width="1.1" stroke-linejoin="round"/>
<path d="M157.10,423.90 L169.00,423.90 C169.42,423.82 170.93,424.73 171.50,423.40 C172.07,422.07 172.12,420.48 172.40,415.90 C172.68,411.32 172.87,401.15 173.20,395.90 C173.53,390.65 174.00,385.73 174.40,384.40 C174.80,383.07 175.20,384.98 175.60,387.90 C176.00,390.82 176.40,397.23 176.80,401.90 C177.20,406.57 177.63,412.57 178.00,415.90 C178.37,419.23 178.50,420.57 179.00,421.90 C179.50,423.23 180.67,423.57 181.00,423.90 L220.70,423.90" fill="none" stroke="#454955" stroke-width="1.1" stroke-linejoin="round"/>
<path d="M220.70,423.90 L232.00,423.90 C232.42,423.82 233.92,424.40 234.50,423.40 C235.08,422.40 235.20,421.15 235.50,417.90 C235.80,414.65 235.97,407.90 236.30,403.90 C236.63,399.90 237.05,395.07 237.50,393.90 C237.95,392.73 238.50,394.90 239.00,396.90 C239.50,398.90 240.03,402.73 240.50,405.90 C240.97,409.07 241.38,413.23 241.80,415.90 C242.22,418.57 242.47,420.57 243.00,421.90 C243.53,423.23 244.67,423.57 245.00,423.90 L285.30,423.90" fill="none" stroke="#454955" stroke-width="1.1" stroke-linejoin="round"/>
<path d="M44.00,444.30 C45.00,444.22 48.00,444.05 50.00,443.80 C52.00,443.55 54.33,443.13 56.00,442.80 C57.67,442.47 58.67,442.38 60.00,441.80 C61.33,441.22 62.83,440.38 64.00,439.30 C65.17,438.22 66.07,437.80 67.00,435.30 C67.93,432.80 68.77,427.80 69.60,424.30 C70.43,420.80 71.15,417.17 72.00,414.30 C72.85,411.43 73.95,407.10 74.70,407.10 C75.45,407.10 75.92,411.43 76.50,414.30 C77.08,417.17 77.70,420.63 78.20,424.30 C78.70,427.97 79.12,433.30 79.50,436.30 C79.88,439.30 80.08,440.97 80.50,442.30 C80.92,443.63 81.75,443.97 82.00,444.30 Z" fill="#8aa0c9" fill-opacity="0.8" stroke="none"/>
<path d="M103.00,444.30 C103.83,444.22 106.50,444.05 108.00,443.80 C109.50,443.55 110.62,443.30 112.00,442.80 C113.38,442.30 114.97,441.63 116.30,440.80 C117.63,439.97 118.88,438.88 120.00,437.80 C121.12,436.72 122.00,436.05 123.00,434.30 C124.00,432.55 125.08,429.97 126.00,427.30 C126.92,424.63 127.83,420.57 128.50,418.30 C129.17,416.03 129.50,413.87 130.00,413.70 C130.50,413.53 131.00,415.20 131.50,417.30 C132.00,419.40 132.50,423.13 133.00,426.30 C133.50,429.47 134.03,433.72 134.50,436.30 C134.97,438.88 135.38,440.55 135.80,441.80 C136.22,443.05 136.47,443.38 137.00,443.80 C137.53,444.22 138.67,444.22 139.00,444.30 Z" fill="#8aa0c9" fill-opacity="0.8" stroke="none"/>
<path d="M171.00,444.30 C171.33,444.13 172.33,444.30 173.00,443.30 C173.67,442.30 174.33,440.13 175.00,438.30 C175.67,436.47 176.17,434.63 177.00,432.30 C177.83,429.97 179.00,427.30 180.00,424.30 C181.00,421.30 181.95,417.07 183.00,414.30 C184.05,411.53 185.42,408.03 186.30,407.70 C187.18,407.37 187.63,409.87 188.30,412.30 C188.97,414.73 189.62,418.80 190.30,422.30 C190.98,425.80 191.78,430.30 192.40,433.30 C193.02,436.30 193.50,438.63 194.00,440.30 C194.50,441.97 194.73,442.63 195.40,443.30 C196.07,443.97 197.57,444.13 198.00,444.30 Z" fill="#8aa0c9" fill-opacity="0.8" stroke="none"/>
<path d="M233.00,444.30 C233.37,444.13 234.60,444.97 235.20,443.30 C235.80,441.63 236.20,439.13 236.60,434.30 C237.00,429.47 237.23,419.97 237.60,414.30 C237.97,408.63 238.43,402.97 238.80,400.30 C239.17,397.63 239.40,397.80 239.80,398.30 C240.20,398.80 240.67,400.30 241.20,403.30 C241.73,406.30 242.37,412.13 243.00,416.30 C243.63,420.47 244.33,425.05 245.00,428.30 C245.67,431.55 246.25,433.80 247.00,435.80 C247.75,437.80 248.67,439.22 249.50,440.30 C250.33,441.38 251.08,441.77 252.00,442.30 C252.92,442.83 253.92,443.17 255.00,443.50 C256.08,443.83 257.92,444.17 258.50,444.30 Z" fill="#8aa0c9" fill-opacity="0.8" stroke="none"/>
<path d="M28.90,444.30 L44.00,444.30 C45.00,444.22 48.00,444.05 50.00,443.80 C52.00,443.55 54.33,443.13 56.00,442.80 C57.67,442.47 58.67,442.38 60.00,441.80 C61.33,441.22 62.83,440.38 64.00,439.30 C65.17,438.22 66.07,437.80 67.00,435.30 C67.93,432.80 68.77,427.80 69.60,424.30 C70.43,420.80 71.15,417.17 72.00,414.30 C72.85,411.43 73.95,407.10 74.70,407.10 C75.45,407.10 75.92,411.43 76.50,414.30 C77.08,417.17 77.70,420.63 78.20,424.30 C78.70,427.97 79.12,433.30 79.50,436.30 C79.88,439.30 80.08,440.97 80.50,442.30 C80.92,443.63 81.75,443.97 82.00,444.30 L93.00,444.30" fill="none" stroke="#253761" stroke-width="1.1" stroke-linejoin="round"/>
<path d="M93.00,444.30 L103.00,444.30 C103.83,444.22 106.50,444.05 108.00,443.80 C109.50,443.55 110.62,443.30 112.00,442.80 C113.38,442.30 114.97,441.63 116.30,440.80 C117.63,439.97 118.88,438.88 120.00,437.80 C121.12,436.72 122.00,436.05 123.00,434.30 C124.00,432.55 125.08,429.97 126.00,427.30 C126.92,424.63 127.83,420.57 128.50,418.30 C129.17,416.03 129.50,413.87 130.00,413.70 C130.50,413.53 131.00,415.20 131.50,417.30 C132.00,419.40 132.50,423.13 133.00,426.30 C133.50,429.47 134.03,433.72 134.50,436.30 C134.97,438.88 135.38,440.55 135.80,441.80 C136.22,443.05 136.47,443.38 137.00,443.80 C137.53,444.22 138.67,444.22 139.00,444.30 L157.10,444.30" fill="none" stroke="#253761" stroke-width="1.1" stroke-linejoin="round"/>
<path d="M157.10,444.30 L171.00,444.30 C171.33,444.13 172.33,444.30 173.00,443.30 C173.67,442.30 174.33,440.13 175.00,438.30 C175.67,436.47 176.17,434.63 177.00,432.30 C177.83,429.97 179.00,427.30 180.00,424.30 C181.00,421.30 181.95,417.07 183.00,414.30 C184.05,411.53 185.42,408.03 186.30,407.70 C187.18,407.37 187.63,409.87 188.30,412.30 C188.97,414.73 189.62,418.80 190.30,422.30 C190.98,425.80 191.78,430.30 192.40,433.30 C193.02,436.30 193.50,438.63 194.00,440.30 C194.50,441.97 194.73,442.63 195.40,443.30 C196.07,443.97 197.57,444.13 198.00,444.30 L220.70,444.30" fill="none" stroke="#253761" stroke-width="1.1" stroke-linejoin="round"/>
<path d="M220.70,444.30 L233.00,444.30 C233.37,444.13 234.60,444.97 235.20,443.30 C235.80,441.63 236.20,439.13 236.60,434.30 C237.00,429.47 237.23,419.97 237.60,414.30 C237.97,408.63 238.43,402.97 238.80,400.30 C239.17,397.63 239.40,397.80 239.80,398.30 C240.20,398.80 240.67,400.30 241.20,403.30 C241.73,406.30 242.37,412.13 243.00,416.30 C243.63,420.47 244.33,425.05 245.00,428.30 C245.67,431.55 246.25,433.80 247.00,435.80 C247.75,437.80 248.67,439.22 249.50,440.30 C250.33,441.38 251.08,441.77 252.00,442.30 C252.92,442.83 253.92,443.17 255.00,443.50 C256.08,443.83 257.92,444.17 258.50,444.30 L285.30,444.30" fill="none" stroke="#253761" stroke-width="1.1" stroke-linejoin="round"/>
<path d="M30.00,464.60 C30.33,464.35 31.33,464.27 32.00,463.10 C32.67,461.93 33.40,460.68 34.00,457.60 C34.60,454.52 35.05,448.93 35.60,444.60 C36.15,440.27 36.75,434.62 37.30,431.60 C37.85,428.58 38.37,426.50 38.90,426.50 C39.43,426.50 39.78,428.58 40.50,431.60 C41.22,434.62 42.53,440.77 43.20,444.60 C43.87,448.43 44.03,451.93 44.50,454.60 C44.97,457.27 45.42,459.27 46.00,460.60 C46.58,461.93 47.00,462.07 48.00,462.60 C49.00,463.13 50.50,463.47 52.00,463.80 C53.50,464.13 56.17,464.47 57.00,464.60 Z" fill="#de6585" fill-opacity="0.8" stroke="none"/>
<path d="M94.00,464.60 C94.33,464.35 95.33,464.27 96.00,463.10 C96.67,461.93 97.40,460.68 98.00,457.60 C98.60,454.52 99.05,448.93 99.60,444.60 C100.15,440.27 100.75,434.57 101.30,431.60 C101.85,428.63 102.37,426.80 102.90,426.80 C103.43,426.80 103.82,428.63 104.50,431.60 C105.18,434.57 106.33,440.77 107.00,444.60 C107.67,448.43 108.00,451.93 108.50,454.60 C109.00,457.27 109.42,459.18 110.00,460.60 C110.58,462.02 111.00,462.52 112.00,463.10 C113.00,463.68 114.67,463.85 116.00,464.10 C117.33,464.35 119.33,464.52 120.00,464.60 Z" fill="#de6585" fill-opacity="0.8" stroke="none"/>
<path d="M170.00,464.60 C170.33,464.27 171.45,465.10 172.00,462.60 C172.55,460.10 172.83,455.63 173.30,449.60 C173.77,443.57 174.35,428.07 174.80,426.40 C175.25,424.73 175.63,434.90 176.00,439.60 C176.37,444.30 176.58,450.93 177.00,454.60 C177.42,458.27 178.00,460.10 178.50,461.60 C179.00,463.10 179.42,463.10 180.00,463.60 C180.58,464.10 181.67,464.43 182.00,464.60 Z" fill="#de6585" fill-opacity="0.8" stroke="none"/>
<path d="M234.00,464.60 C234.38,464.43 235.70,465.27 236.30,463.60 C236.90,461.93 237.18,459.43 237.60,454.60 C238.02,449.77 238.33,439.30 238.80,434.60 C239.27,429.90 239.90,426.73 240.40,426.40 C240.90,426.07 241.33,429.57 241.80,432.60 C242.27,435.63 242.73,440.93 243.20,444.60 C243.67,448.27 244.13,451.93 244.60,454.60 C245.07,457.27 245.50,459.10 246.00,460.60 C246.50,462.10 246.93,462.93 247.60,463.60 C248.27,464.27 249.60,464.43 250.00,464.60 Z" fill="#de6585" fill-opacity="0.8" stroke="none"/>
<path d="M28.90,464.60 L30.00,464.60 C30.33,464.35 31.33,464.27 32.00,463.10 C32.67,461.93 33.40,460.68 34.00,457.60 C34.60,454.52 35.05,448.93 35.60,444.60 C36.15,440.27 36.75,434.62 37.30,431.60 C37.85,428.58 38.37,426.50 38.90,426.50 C39.43,426.50 39.78,428.58 40.50,431.60 C41.22,434.62 42.53,440.77 43.20,444.60 C43.87,448.43 44.03,451.93 44.50,454.60 C44.97,457.27 45.42,459.27 46.00,460.60 C46.58,461.93 47.00,462.07 48.00,462.60 C49.00,463.13 50.50,463.47 52.00,463.80 C53.50,464.13 56.17,464.47 57.00,464.60 L93.00,464.60" fill="none" stroke="#901537" stroke-width="1.1" stroke-linejoin="round"/>
<path d="M93.00,464.60 L94.00,464.60 C94.33,464.35 95.33,464.27 96.00,463.10 C96.67,461.93 97.40,460.68 98.00,457.60 C98.60,454.52 99.05,448.93 99.60,444.60 C100.15,440.27 100.75,434.57 101.30,431.60 C101.85,428.63 102.37,426.80 102.90,426.80 C103.43,426.80 103.82,428.63 104.50,431.60 C105.18,434.57 106.33,440.77 107.00,444.60 C107.67,448.43 108.00,451.93 108.50,454.60 C109.00,457.27 109.42,459.18 110.00,460.60 C110.58,462.02 111.00,462.52 112.00,463.10 C113.00,463.68 114.67,463.85 116.00,464.10 C117.33,464.35 119.33,464.52 120.00,464.60 L157.10,464.60" fill="none" stroke="#901537" stroke-width="1.1" stroke-linejoin="round"/>
<path d="M157.10,464.60 L170.00,464.60 C170.33,464.27 171.45,465.10 172.00,462.60 C172.55,460.10 172.83,455.63 173.30,449.60 C173.77,443.57 174.35,428.07 174.80,426.40 C175.25,424.73 175.63,434.90 176.00,439.60 C176.37,444.30 176.58,450.93 177.00,454.60 C177.42,458.27 178.00,460.10 178.50,461.60 C179.00,463.10 179.42,463.10 180.00,463.60 C180.58,464.10 181.67,464.43 182.00,464.60 L220.70,464.60" fill="none" stroke="#901537" stroke-width="1.1" stroke-linejoin="round"/>
<path d="M220.70,464.60 L234.00,464.60 C234.38,464.43 235.70,465.27 236.30,463.60 C236.90,461.93 237.18,459.43 237.60,454.60 C238.02,449.77 238.33,439.30 238.80,434.60 C239.27,429.90 239.90,426.73 240.40,426.40 C240.90,426.07 241.33,429.57 241.80,432.60 C242.27,435.63 242.73,440.93 243.20,444.60 C243.67,448.27 244.13,451.93 244.60,454.60 C245.07,457.27 245.50,459.10 246.00,460.60 C246.50,462.10 246.93,462.93 247.60,463.60 C248.27,464.27 249.60,464.43 250.00,464.60 L285.30,464.60" fill="none" stroke="#901537" stroke-width="1.1" stroke-linejoin="round"/>
<line x1="174.9" y1="363.5" x2="174.9" y2="465" stroke="#111" stroke-width="1.3" stroke-dasharray="1.9 1.3"/>
<line x1="238.4" y1="363.5" x2="238.4" y2="465" stroke="#111" stroke-width="1.3" stroke-dasharray="1.9 1.3"/>
<rect x="28.9" y="361.9" width="256.40" height="103.30" fill="none" stroke="#111" stroke-width="1.2"/>
<line x1="93.50" y1="361.90" x2="93.50" y2="465.20" stroke="#111" stroke-width="1.1" />
<line x1="157.50" y1="361.90" x2="157.50" y2="465.20" stroke="#111" stroke-width="1.1" />
<line x1="220.50" y1="361.90" x2="220.50" y2="465.20" stroke="#111" stroke-width="1.1" />
<line x1="30.50" y1="465.20" x2="30.50" y2="468.40" stroke="#000" stroke-width="1.0"/>
<line x1="32.80" y1="465.20" x2="32.80" y2="467.20" stroke="#000" stroke-width="1.0"/>
<line x1="35.10" y1="465.20" x2="35.10" y2="467.60" stroke="#000" stroke-width="1.0"/>
<line x1="37.40" y1="465.20" x2="37.40" y2="467.60" stroke="#000" stroke-width="1.0"/>
<line x1="39.70" y1="465.20" x2="39.70" y2="467.20" stroke="#000" stroke-width="1.0"/>
<line x1="42.00" y1="465.20" x2="42.00" y2="468.40" stroke="#000" stroke-width="1.0"/>
<line x1="44.30" y1="465.20" x2="44.30" y2="467.20" stroke="#000" stroke-width="1.0"/>
<line x1="46.60" y1="465.20" x2="46.60" y2="467.60" stroke="#000" stroke-width="1.0"/>
<line x1="48.90" y1="465.20" x2="48.90" y2="467.60" stroke="#000" stroke-width="1.0"/>
<line x1="51.20" y1="465.20" x2="51.20" y2="467.20" stroke="#000" stroke-width="1.0"/>
<line x1="53.50" y1="465.20" x2="53.50" y2="468.40" stroke="#000" stroke-width="1.0"/>
<line x1="55.80" y1="465.20" x2="55.80" y2="467.20" stroke="#000" stroke-width="1.0"/>
<line x1="58.10" y1="465.20" x2="58.10" y2="467.60" stroke="#000" stroke-width="1.0"/>
<line x1="60.40" y1="465.20" x2="60.40" y2="467.60" stroke="#000" stroke-width="1.0"/>
<line x1="62.70" y1="465.20" x2="62.70" y2="467.20" stroke="#000" stroke-width="1.0"/>
<line x1="65.00" y1="465.20" x2="65.00" y2="468.40" stroke="#000" stroke-width="1.0"/>
<line x1="67.30" y1="465.20" x2="67.30" y2="467.20" stroke="#000" stroke-width="1.0"/>
<line x1="69.60" y1="465.20" x2="69.60" y2="467.60" stroke="#000" stroke-width="1.0"/>
<line x1="71.90" y1="465.20" x2="71.90" y2="467.60" stroke="#000" stroke-width="1.0"/>
<line x1="74.20" y1="465.20" x2="74.20" y2="467.20" stroke="#000" stroke-width="1.0"/>
<line x1="76.50" y1="465.20" x2="76.50" y2="468.40" stroke="#000" stroke-width="1.0"/>
<line x1="78.80" y1="465.20" x2="78.80" y2="467.20" stroke="#000" stroke-width="1.0"/>
<line x1="81.10" y1="465.20" x2="81.10" y2="467.60" stroke="#000" stroke-width="1.0"/>
<line x1="83.40" y1="465.20" x2="83.40" y2="467.60" stroke="#000" stroke-width="1.0"/>
<line x1="85.70" y1="465.20" x2="85.70" y2="467.20" stroke="#000" stroke-width="1.0"/>
<line x1="88.00" y1="465.20" x2="88.00" y2="468.40" stroke="#000" stroke-width="1.0"/>
<line x1="90.30" y1="465.20" x2="90.30" y2="467.20" stroke="#000" stroke-width="1.0"/>
<line x1="94.60" y1="465.20" x2="94.60" y2="468.40" stroke="#000" stroke-width="1.0"/>
<line x1="96.90" y1="465.20" x2="96.90" y2="467.20" stroke="#000" stroke-width="1.0"/>
<line x1="99.20" y1="465.20" x2="99.20" y2="467.60" stroke="#000" stroke-width="1.0"/>
<line x1="101.50" y1="465.20" x2="101.50" y2="467.60" stroke="#000" stroke-width="1.0"/>
<line x1="103.80" y1="465.20" x2="103.80" y2="467.20" stroke="#000" stroke-width="1.0"/>
<line x1="106.10" y1="465.20" x2="106.10" y2="468.40" stroke="#000" stroke-width="1.0"/>
<line x1="108.40" y1="465.20" x2="108.40" y2="467.20" stroke="#000" stroke-width="1.0"/>
<line x1="110.70" y1="465.20" x2="110.70" y2="467.60" stroke="#000" stroke-width="1.0"/>
<line x1="113.00" y1="465.20" x2="113.00" y2="467.60" stroke="#000" stroke-width="1.0"/>
<line x1="115.30" y1="465.20" x2="115.30" y2="467.20" stroke="#000" stroke-width="1.0"/>
<line x1="117.60" y1="465.20" x2="117.60" y2="468.40" stroke="#000" stroke-width="1.0"/>
<line x1="119.90" y1="465.20" x2="119.90" y2="467.20" stroke="#000" stroke-width="1.0"/>
<line x1="122.20" y1="465.20" x2="122.20" y2="467.60" stroke="#000" stroke-width="1.0"/>
<line x1="124.50" y1="465.20" x2="124.50" y2="467.60" stroke="#000" stroke-width="1.0"/>
<line x1="126.80" y1="465.20" x2="126.80" y2="467.20" stroke="#000" stroke-width="1.0"/>
<line x1="129.10" y1="465.20" x2="129.10" y2="468.40" stroke="#000" stroke-width="1.0"/>
<line x1="131.40" y1="465.20" x2="131.40" y2="467.20" stroke="#000" stroke-width="1.0"/>
<line x1="133.70" y1="465.20" x2="133.70" y2="467.60" stroke="#000" stroke-width="1.0"/>
<line x1="136.00" y1="465.20" x2="136.00" y2="467.60" stroke="#000" stroke-width="1.0"/>
<line x1="138.30" y1="465.20" x2="138.30" y2="467.20" stroke="#000" stroke-width="1.0"/>
<line x1="140.60" y1="465.20" x2="140.60" y2="468.40" stroke="#000" stroke-width="1.0"/>
<line x1="142.90" y1="465.20" x2="142.90" y2="467.20" stroke="#000" stroke-width="1.0"/>
<line x1="145.20" y1="465.20" x2="145.20" y2="467.60" stroke="#000" stroke-width="1.0"/>
<line x1="147.50" y1="465.20" x2="147.50" y2="467.60" stroke="#000" stroke-width="1.0"/>
<line x1="149.80" y1="465.20" x2="149.80" y2="467.20" stroke="#000" stroke-width="1.0"/>
<line x1="152.10" y1="465.20" x2="152.10" y2="468.40" stroke="#000" stroke-width="1.0"/>
<line x1="154.40" y1="465.20" x2="154.40" y2="467.20" stroke="#000" stroke-width="1.0"/>
<line x1="158.70" y1="465.20" x2="158.70" y2="468.40" stroke="#000" stroke-width="1.0"/>
<line x1="161.00" y1="465.20" x2="161.00" y2="467.20" stroke="#000" stroke-width="1.0"/>
<line x1="163.30" y1="465.20" x2="163.30" y2="467.60" stroke="#000" stroke-width="1.0"/>
<line x1="165.60" y1="465.20" x2="165.60" y2="467.60" stroke="#000" stroke-width="1.0"/>
<line x1="167.90" y1="465.20" x2="167.90" y2="467.20" stroke="#000" stroke-width="1.0"/>
<line x1="170.20" y1="465.20" x2="170.20" y2="468.40" stroke="#000" stroke-width="1.0"/>
<line x1="172.50" y1="465.20" x2="172.50" y2="467.20" stroke="#000" stroke-width="1.0"/>
<line x1="174.80" y1="465.20" x2="174.80" y2="467.60" stroke="#000" stroke-width="1.0"/>
<line x1="177.10" y1="465.20" x2="177.10" y2="467.60" stroke="#000" stroke-width="1.0"/>
<line x1="179.40" y1="465.20" x2="179.40" y2="467.20" stroke="#000" stroke-width="1.0"/>
<line x1="181.70" y1="465.20" x2="181.70" y2="468.40" stroke="#000" stroke-width="1.0"/>
<line x1="184.00" y1="465.20" x2="184.00" y2="467.20" stroke="#000" stroke-width="1.0"/>
<line x1="186.30" y1="465.20" x2="186.30" y2="467.60" stroke="#000" stroke-width="1.0"/>
<line x1="188.60" y1="465.20" x2="188.60" y2="467.60" stroke="#000" stroke-width="1.0"/>
<line x1="190.90" y1="465.20" x2="190.90" y2="467.20" stroke="#000" stroke-width="1.0"/>
<line x1="193.20" y1="465.20" x2="193.20" y2="468.40" stroke="#000" stroke-width="1.0"/>
<line x1="195.50" y1="465.20" x2="195.50" y2="467.20" stroke="#000" stroke-width="1.0"/>
<line x1="197.80" y1="465.20" x2="197.80" y2="467.60" stroke="#000" stroke-width="1.0"/>
<line x1="200.10" y1="465.20" x2="200.10" y2="467.60" stroke="#000" stroke-width="1.0"/>
<line x1="202.40" y1="465.20" x2="202.40" y2="467.20" stroke="#000" stroke-width="1.0"/>
<line x1="204.70" y1="465.20" x2="204.70" y2="468.40" stroke="#000" stroke-width="1.0"/>
<line x1="207.00" y1="465.20" x2="207.00" y2="467.20" stroke="#000" stroke-width="1.0"/>
<line x1="209.30" y1="465.20" x2="209.30" y2="467.60" stroke="#000" stroke-width="1.0"/>
<line x1="211.60" y1="465.20" x2="211.60" y2="467.60" stroke="#000" stroke-width="1.0"/>
<line x1="213.90" y1="465.20" x2="213.90" y2="467.20" stroke="#000" stroke-width="1.0"/>
<line x1="216.20" y1="465.20" x2="216.20" y2="468.40" stroke="#000" stroke-width="1.0"/>
<line x1="218.50" y1="465.20" x2="218.50" y2="467.20" stroke="#000" stroke-width="1.0"/>
<line x1="222.30" y1="465.20" x2="222.30" y2="468.40" stroke="#000" stroke-width="1.0"/>
<line x1="224.60" y1="465.20" x2="224.60" y2="467.20" stroke="#000" stroke-width="1.0"/>
<line x1="226.90" y1="465.20" x2="226.90" y2="467.60" stroke="#000" stroke-width="1.0"/>
<line x1="229.20" y1="465.20" x2="229.20" y2="467.60" stroke="#000" stroke-width="1.0"/>
<line x1="231.50" y1="465.20" x2="231.50" y2="467.20" stroke="#000" stroke-width="1.0"/>
<line x1="233.80" y1="465.20" x2="233.80" y2="468.40" stroke="#000" stroke-width="1.0"/>
<line x1="236.10" y1="465.20" x2="236.10" y2="467.20" stroke="#000" stroke-width="1.0"/>
<line x1="238.40" y1="465.20" x2="238.40" y2="467.60" stroke="#000" stroke-width="1.0"/>
<line x1="240.70" y1="465.20" x2="240.70" y2="467.60" stroke="#000" stroke-width="1.0"/>
<line x1="243.00" y1="465.20" x2="243.00" y2="467.20" stroke="#000" stroke-width="1.0"/>
<line x1="245.30" y1="465.20" x2="245.30" y2="468.40" stroke="#000" stroke-width="1.0"/>
<line x1="247.60" y1="465.20" x2="247.60" y2="467.20" stroke="#000" stroke-width="1.0"/>
<line x1="249.90" y1="465.20" x2="249.90" y2="467.60" stroke="#000" stroke-width="1.0"/>
<line x1="252.20" y1="465.20" x2="252.20" y2="467.60" stroke="#000" stroke-width="1.0"/>
<line x1="254.50" y1="465.20" x2="254.50" y2="467.20" stroke="#000" stroke-width="1.0"/>
<line x1="256.80" y1="465.20" x2="256.80" y2="468.40" stroke="#000" stroke-width="1.0"/>
<line x1="259.10" y1="465.20" x2="259.10" y2="467.20" stroke="#000" stroke-width="1.0"/>
<line x1="261.40" y1="465.20" x2="261.40" y2="467.60" stroke="#000" stroke-width="1.0"/>
<line x1="263.70" y1="465.20" x2="263.70" y2="467.60" stroke="#000" stroke-width="1.0"/>
<line x1="266.00" y1="465.20" x2="266.00" y2="467.20" stroke="#000" stroke-width="1.0"/>
<line x1="268.30" y1="465.20" x2="268.30" y2="468.40" stroke="#000" stroke-width="1.0"/>
<line x1="270.60" y1="465.20" x2="270.60" y2="467.20" stroke="#000" stroke-width="1.0"/>
<line x1="272.90" y1="465.20" x2="272.90" y2="467.60" stroke="#000" stroke-width="1.0"/>
<line x1="275.20" y1="465.20" x2="275.20" y2="467.60" stroke="#000" stroke-width="1.0"/>
<line x1="277.50" y1="465.20" x2="277.50" y2="467.20" stroke="#000" stroke-width="1.0"/>
<line x1="279.80" y1="465.20" x2="279.80" y2="468.40" stroke="#000" stroke-width="1.0"/>
<line x1="282.10" y1="465.20" x2="282.10" y2="467.20" stroke="#000" stroke-width="1.0"/>
<line x1="284.40" y1="465.20" x2="284.40" y2="467.60" stroke="#000" stroke-width="1.0"/>
<rect x="266.3" y="385.90" width="6.4" height="6.4" fill="#dddddd" fill-opacity="0.85" stroke="#c4c4c4" stroke-width="0.9"/>
<text x="269.60" y="400.40" font-size="7.6" text-anchor="middle" fill="#1e1e1e" font-weight="normal" >Control</text>
<rect x="266.3" y="405.90" width="6.4" height="6.4" fill="#8d909e" fill-opacity="0.75" stroke="#454955" stroke-width="0.9"/>
<text x="269.60" y="421.30" font-size="7.6" text-anchor="middle" fill="#1e1e1e" font-weight="normal" >PEBL</text>
<rect x="266.3" y="426.30" width="6.4" height="6.4" fill="#8aa0c9" fill-opacity="0.8" stroke="#253761" stroke-width="0.9"/>
<text x="269.60" y="441.20" font-size="7.6" text-anchor="middle" fill="#1e1e1e" font-weight="normal" >Control</text>
<rect x="266.3" y="446.60" width="6.4" height="6.4" fill="#de6585" fill-opacity="0.8" stroke="#901537" stroke-width="0.9"/>
<text x="269.60" y="462.30" font-size="7.6" text-anchor="middle" fill="#1e1e1e" font-weight="normal" >PEBL</text>
<text x="60.95" y="479.90" font-size="7.8" text-anchor="middle" fill="#1e1e1e" font-weight="normal" >CD3</text>
<text x="125.05" y="479.90" font-size="7.8" text-anchor="middle" fill="#1e1e1e" font-weight="normal" >TCRαβ</text>
<text x="188.90" y="479.90" font-size="7.8" text-anchor="middle" fill="#1e1e1e" font-weight="normal" >surf. TCRVβ3</text>
<text x="253.00" y="479.90" font-size="7.8" text-anchor="middle" fill="#1e1e1e" font-weight="normal" >cyto. TCRVβ3</text>
<text transform="translate(24.60,393.00) rotate(-90)" x="0" y="0" font-size="8.2" text-anchor="middle" fill="#1e1e1e" font-weight="normal">NeoR vector</text>
<text transform="translate(24.60,444.60) rotate(-90)" x="0" y="0" font-size="8.2" text-anchor="middle" fill="#1e1e1e" font-weight="normal" textLength="40" lengthAdjust="spacingAndGlyphs">TCR s183</text>
<line x1="346.50" y1="376.00" x2="346.50" y2="469.70" stroke="#1a1a1a" stroke-width="1.0" />
<line x1="343.00" y1="469.50" x2="406.60" y2="469.50" stroke="#1a1a1a" stroke-width="1.0" />
<line x1="343.00" y1="469.50" x2="346.00" y2="469.50" stroke="#1a1a1a" stroke-width="1.0" />
<text x="339.60" y="472.30" font-size="7.5" text-anchor="end" fill="#1e1e1e" font-weight="normal" >0</text>
<line x1="343.00" y1="439.50" x2="346.00" y2="439.50" stroke="#1a1a1a" stroke-width="1.0" />
<text x="339.60" y="441.90" font-size="7.5" text-anchor="end" fill="#1e1e1e" font-weight="normal" >2</text>
<line x1="343.00" y1="408.50" x2="346.00" y2="408.50" stroke="#1a1a1a" stroke-width="1.0" />
<text x="339.60" y="411.50" font-size="7.5" text-anchor="end" fill="#1e1e1e" font-weight="normal" >4</text>
<line x1="343.00" y1="378.50" x2="346.00" y2="378.50" stroke="#1a1a1a" stroke-width="1.0" />
<text x="339.60" y="381.10" font-size="7.5" text-anchor="end" fill="#1e1e1e" font-weight="normal" >6</text>
<text x="376.20" y="370.40" font-size="9.6" text-anchor="middle" fill="#111" font-weight="normal" >CD25</text>
<circle cx="352.30" cy="469.70" r="2.8" fill="#2b4677" stroke="none" stroke-width="0"/>
<circle cx="354.00" cy="469.70" r="2.8" fill="#2b4677" stroke="none" stroke-width="0"/>
<circle cx="355.50" cy="469.70" r="2.8" fill="#2b4677" stroke="none" stroke-width="0"/>
<circle cx="382.80" cy="469.70" r="2.8" fill="#2b4677" stroke="none" stroke-width="0"/>
<circle cx="384.50" cy="469.70" r="2.8" fill="#2b4677" stroke="none" stroke-width="0"/>
<circle cx="385.80" cy="469.70" r="2.8" fill="#2b4677" stroke="none" stroke-width="0"/>
<circle cx="397.70" cy="469.70" r="2.2" fill="#fff" stroke="#85173a" stroke-width="1.2"/>
<circle cx="399.50" cy="469.70" r="2.2" fill="#fff" stroke="#85173a" stroke-width="1.2"/>
<circle cx="400.80" cy="469.70" r="2.2" fill="#fff" stroke="#85173a" stroke-width="1.2"/>
<circle cx="368.50" cy="392.48" r="2.2" fill="#fff" stroke="#85173a" stroke-width="1.2"/>
<circle cx="368.50" cy="433.22" r="2.2" fill="#fff" stroke="#85173a" stroke-width="1.2"/>
<circle cx="368.50" cy="447.96" r="2.2" fill="#fff" stroke="#85173a" stroke-width="1.2"/>
<line x1="349.20" y1="474.50" x2="372.70" y2="474.50" stroke="#1e1e1e" stroke-width="1.2" />
<line x1="380.40" y1="474.50" x2="403.00" y2="474.50" stroke="#1e1e1e" stroke-width="1.2" />
<text x="361.00" y="486.60" font-size="7.8" text-anchor="middle" fill="#1e1e1e" font-weight="normal" >Control</text>
<text x="391.70" y="486.60" font-size="7.8" text-anchor="middle" fill="#1e1e1e" font-weight="normal" >PEBL</text>
<line x1="427.50" y1="376.50" x2="427.50" y2="469.70" stroke="#1a1a1a" stroke-width="1.0" />
<line x1="424.60" y1="469.50" x2="487.60" y2="469.50" stroke="#1a1a1a" stroke-width="1.0" />
<line x1="424.60" y1="469.50" x2="427.60" y2="469.50" stroke="#1a1a1a" stroke-width="1.0" />
<text x="421.20" y="472.30" font-size="7.5" text-anchor="end" fill="#1e1e1e" font-weight="normal" >0</text>
<line x1="424.60" y1="447.50" x2="427.60" y2="447.50" stroke="#1a1a1a" stroke-width="1.0" />
<text x="421.20" y="449.70" font-size="7.5" text-anchor="end" fill="#1e1e1e" font-weight="normal" >5</text>
<line x1="424.60" y1="424.50" x2="427.60" y2="424.50" stroke="#1a1a1a" stroke-width="1.0" />
<text x="421.20" y="427.10" font-size="7.5" text-anchor="end" fill="#1e1e1e" font-weight="normal" >10</text>
<line x1="424.60" y1="401.50" x2="427.60" y2="401.50" stroke="#1a1a1a" stroke-width="1.0" />
<text x="421.20" y="404.50" font-size="7.5" text-anchor="end" fill="#1e1e1e" font-weight="normal" >15</text>
<line x1="424.60" y1="379.50" x2="427.60" y2="379.50" stroke="#1a1a1a" stroke-width="1.0" />
<text x="421.20" y="381.90" font-size="7.5" text-anchor="end" fill="#1e1e1e" font-weight="normal" >20</text>
<text x="457.30" y="370.40" font-size="9.6" text-anchor="middle" fill="#111" font-weight="normal" >CD69</text>
<circle cx="433.50" cy="469.70" r="2.8" fill="#2b4677" stroke="none" stroke-width="0"/>
<circle cx="435.00" cy="469.70" r="2.8" fill="#2b4677" stroke="none" stroke-width="0"/>
<circle cx="435.80" cy="469.70" r="2.8" fill="#2b4677" stroke="none" stroke-width="0"/>
<circle cx="464.20" cy="469.70" r="2.8" fill="#2b4677" stroke="none" stroke-width="0"/>
<circle cx="465.00" cy="469.70" r="2.8" fill="#2b4677" stroke="none" stroke-width="0"/>
<circle cx="465.60" cy="469.70" r="2.8" fill="#2b4677" stroke="none" stroke-width="0"/>
<circle cx="478.70" cy="469.70" r="2.2" fill="#fff" stroke="#85173a" stroke-width="1.2"/>
<circle cx="480.50" cy="469.70" r="2.2" fill="#fff" stroke="#85173a" stroke-width="1.2"/>
<circle cx="481.90" cy="469.70" r="2.2" fill="#fff" stroke="#85173a" stroke-width="1.2"/>
<circle cx="450.00" cy="402.80" r="2.2" fill="#fff" stroke="#85173a" stroke-width="1.2"/>
<circle cx="450.00" cy="436.25" r="2.2" fill="#fff" stroke="#85173a" stroke-width="1.2"/>
<circle cx="450.00" cy="443.03" r="2.2" fill="#fff" stroke="#85173a" stroke-width="1.2"/>
<line x1="430.80" y1="474.50" x2="453.80" y2="474.50" stroke="#1e1e1e" stroke-width="1.2" />
<line x1="461.90" y1="474.50" x2="485.00" y2="474.50" stroke="#1e1e1e" stroke-width="1.2" />
<text x="442.60" y="486.60" font-size="7.8" text-anchor="middle" fill="#1e1e1e" font-weight="normal" >Control</text>
<text x="473.70" y="486.60" font-size="7.8" text-anchor="middle" fill="#1e1e1e" font-weight="normal" >PEBL</text>
<text transform="translate(328.90,422.50) rotate(-90)" x="0" y="0" font-size="8.8" text-anchor="middle" fill="#1a1a1a" font-weight="normal" textLength="34" lengthAdjust="spacingAndGlyphs"><tspan font-weight="bold">MFI</tspan> (x 10<tspan font-size="5" dy="-2.8">3</tspan><tspan dy="2.8">)</tspan></text>
<circle cx="470.60" cy="380.70" r="2.8" fill="#2b4677" stroke="none" stroke-width="0"/>
<text x="476.40" y="382.90" font-size="7.8" text-anchor="start" fill="#1e1e1e" font-weight="normal" >NeoR</text>
<circle cx="470.40" cy="392.40" r="2.2" fill="#fff" stroke="#85173a" stroke-width="1.2"/>
<text x="476.40" y="395.10" font-size="7.8" text-anchor="start" fill="#1e1e1e" font-weight="normal" >TCR s183</text>
</svg>
<div id="frame"></div><div id="frame2"></div>
</div>
</body></html>
